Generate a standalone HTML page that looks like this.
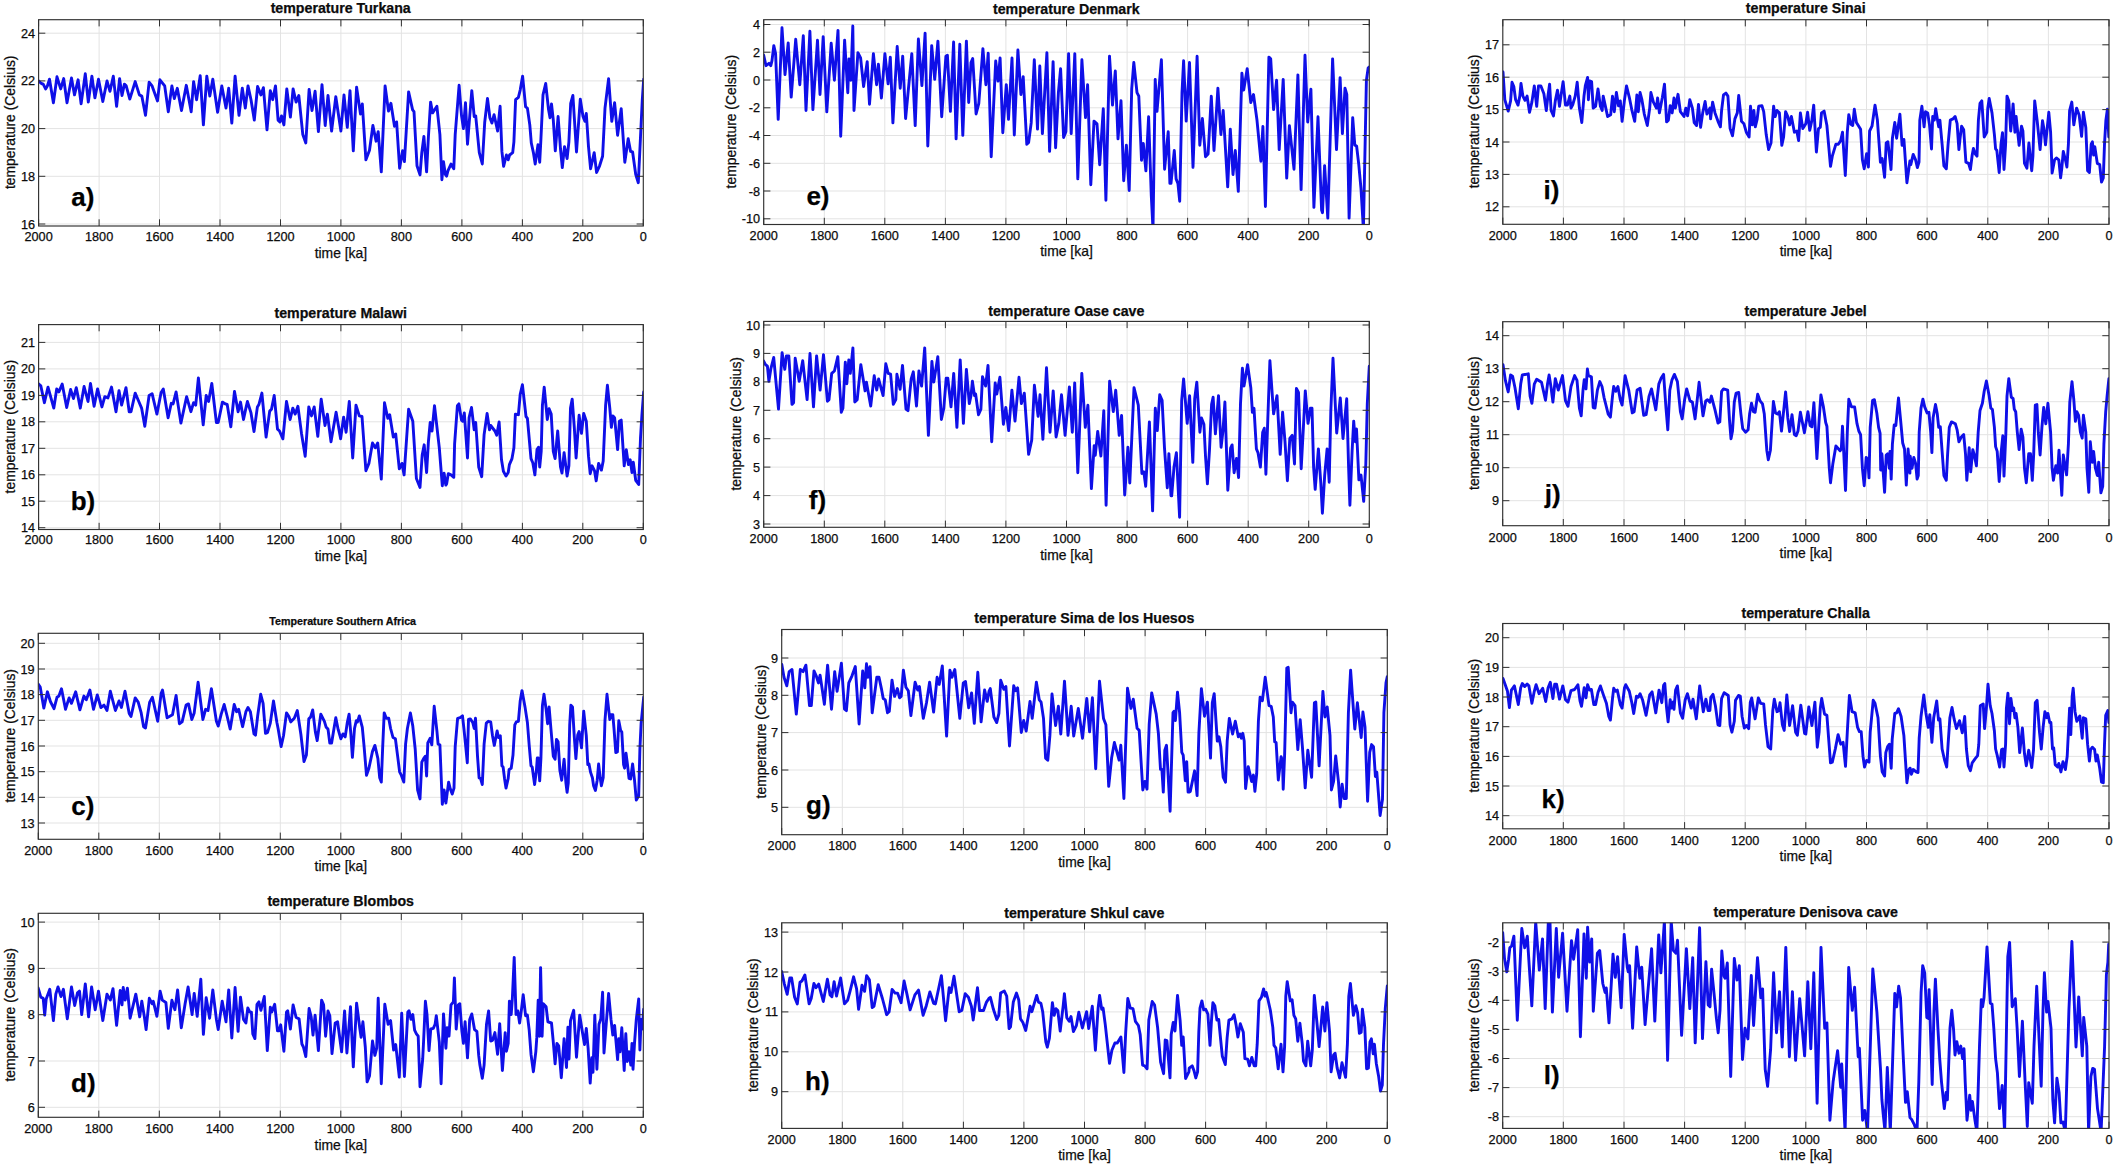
<!DOCTYPE html><html><head><meta charset="utf-8"><title>temperature</title><style>html,body{margin:0;padding:0;background:#fff}svg{display:block}text{font-family:"Liberation Sans",Arial,Helvetica,sans-serif;fill:#0c0c0c;stroke:#0c0c0c;stroke-width:0.25px}.t{font-size:12.7px}.a{font-size:13.9px}.h{font-weight:bold}.L{font-weight:bold;font-size:26px;fill:#000}</style></head><body>
<svg width="2121" height="1164" viewBox="0 0 2121 1164">
<rect width="2121" height="1164" fill="#fff"/>
<g id="pa">
<path d="M99.1 19.7V226M159.5 19.7V226M220.0 19.7V226M280.5 19.7V226M340.9 19.7V226M401.4 19.7V226M461.9 19.7V226M522.4 19.7V226M582.8 19.7V226M38.6 224.0H643.3M38.6 176.3H643.3M38.6 128.6H643.3M38.6 80.9H643.3M38.6 33.2H643.3" stroke="#e3e3e3" stroke-width="1" fill="none"/>
<clipPath id="ca"><rect x="38.6" y="19.7" width="604.7" height="206.3"/></clipPath>
<polyline clip-path="url(#ca)" points="38.2,80.7 41.4,83.5 43.2,84.1 45.6,88.9 47.4,85.9 49.5,79.2 53.4,102.7 57.0,76.8 60.7,88.9 63.7,78.6 67.0,102.7 71.5,78.0 74.5,94.9 78.1,79.8 81.1,103.9 85.3,73.8 88.3,102.1 91.9,76.2 94.9,97.9 98.5,79.2 102.8,101.5 107.0,81.0 110.0,91.3 113.3,76.2 116.6,106.3 119.6,78.6 122.0,95.5 124.4,84.1 126.2,85.9 129.8,99.1 135.2,81.6 139.4,94.9 141.8,96.1 145.5,115.3 149.1,82.3 152.1,85.9 157.5,100.9 159.9,79.8 164.7,85.9 168.3,111.7 171.9,85.9 174.3,98.5 177.3,88.3 181.5,110.5 186.3,85.3 191.2,111.7 193.6,81.6 196.6,99.7 200.2,75.6 203.4,124.9 206.8,76.2 209.8,96.1 212.8,79.2 217.6,112.3 221.8,85.9 226.0,108.1 228.7,88.3 231.8,123.1 235.1,76.2 239.0,115.3 242.3,88.3 245.3,108.1 248.0,85.9 251.0,99.7 254.3,120.1 257.6,86.5 260.9,94.9 263.4,87.7 267.0,129.8 270.3,90.7 272.7,99.7 275.5,85.9 278.1,120.1 279.9,121.9 281.5,115.9 283.9,124.9 286.8,88.9 290.4,117.1 293.1,88.9 296.1,102.1 298.8,95.5 302.8,134.6 305.8,143.0 309.1,89.5 312.0,110.5 315.1,91.3 318.4,131.6 322.0,84.7 325.2,125.5 328.0,95.5 331.6,131.0 335.8,96.7 340.9,131.0 344.0,94.9 347.3,127.4 350.0,90.7 353.3,150.8 356.6,87.1 360.5,114.1 362.3,103.9 365.9,159.8 369.5,150.2 372.9,125.5 376.1,141.2 378.2,131.6 381.3,171.9 385.1,85.9 388.5,111.1 390.9,103.3 394.5,126.2 396.6,121.9 399.6,168.2 402.6,150.8 404.4,161.6 408.6,91.9 412.6,109.9 414.0,111.7 417.0,165.8 420.0,174.9 421.8,152.6 423.9,136.4 426.6,171.9 428.4,137.0 430.6,102.1 432.6,112.9 436.9,106.3 439.9,134.6 441.9,179.7 443.5,161.6 445.3,174.3 446.6,176.1 448.0,170.7 451.0,164.0 453.8,168.8 455.2,134.6 459.1,85.3 461.5,115.3 463.4,128.6 465.5,102.7 467.5,144.2 469.7,116.5 471.8,90.7 474.2,116.5 475.7,115.9 479.3,152.6 482.3,164.0 484.7,122.5 487.5,98.5 489.9,117.7 491.9,123.1 494.1,114.7 497.6,131.0 500.1,106.3 501.9,151.4 503.6,166.4 506.4,155.0 508.2,159.8 509.6,155.0 512.7,152.6 513.9,141.8 515.6,99.7 518.4,97.3 520.2,90.1 522.6,76.2 525.6,106.9 527.4,108.1 529.8,124.9 531.3,143.0 533.4,152.6 535.2,164.0 538.0,144.8 539.7,162.2 540.9,139.4 543.0,94.9 545.7,83.5 548.5,109.3 550.0,117.7 551.5,103.9 553.3,120.1 555.3,150.8 558.1,116.5 560.5,149.0 562.3,167.6 564.5,146.6 567.1,158.6 568.9,141.8 570.7,103.3 572.9,95.5 576.5,152.0 580.3,99.1 583.0,116.5 584.9,121.3 586.3,113.5 588.5,146.6 590.6,168.8 594.2,152.6 596.6,172.5 599.6,165.8 602.6,156.2 605.0,108.1 608.6,78.6 611.8,121.3 614.6,102.7 617.6,135.2 621.2,108.7 624.8,162.2 628.2,138.8 630.6,151.4 632.6,152.0 635.7,174.3 638.3,182.7 640.5,137.0 642.3,99.7 643.7,79.2" fill="none" stroke="#0f0fe8" stroke-width="2.9" stroke-linejoin="round" stroke-linecap="round"/>
<path d="M38.6 226v-6.7M38.6 19.7v6.7M99.1 226v-6.7M99.1 19.7v6.7M159.5 226v-6.7M159.5 19.7v6.7M220.0 226v-6.7M220.0 19.7v6.7M280.5 226v-6.7M280.5 19.7v6.7M340.9 226v-6.7M340.9 19.7v6.7M401.4 226v-6.7M401.4 19.7v6.7M461.9 226v-6.7M461.9 19.7v6.7M522.4 226v-6.7M522.4 19.7v6.7M582.8 226v-6.7M582.8 19.7v6.7M643.3 226v-6.7M643.3 19.7v6.7M38.6 224.0h6.7M643.3 224.0h-6.7M38.6 176.3h6.7M643.3 176.3h-6.7M38.6 128.6h6.7M643.3 128.6h-6.7M38.6 80.9h6.7M643.3 80.9h-6.7M38.6 33.2h6.7M643.3 33.2h-6.7" stroke="#303030" stroke-width="1" fill="none"/>
<rect x="38.6" y="19.7" width="604.7" height="206.3" fill="none" stroke="#303030" stroke-width="1.15"/>
<text class="t" x="38.6" y="241.0" text-anchor="middle">2000</text>
<text class="t" x="99.1" y="241.0" text-anchor="middle">1800</text>
<text class="t" x="159.5" y="241.0" text-anchor="middle">1600</text>
<text class="t" x="220.0" y="241.0" text-anchor="middle">1400</text>
<text class="t" x="280.5" y="241.0" text-anchor="middle">1200</text>
<text class="t" x="340.9" y="241.0" text-anchor="middle">1000</text>
<text class="t" x="401.4" y="241.0" text-anchor="middle">800</text>
<text class="t" x="461.9" y="241.0" text-anchor="middle">600</text>
<text class="t" x="522.4" y="241.0" text-anchor="middle">400</text>
<text class="t" x="582.8" y="241.0" text-anchor="middle">200</text>
<text class="t" x="643.3" y="241.0" text-anchor="middle">0</text>
<text class="t" x="35.0" y="228.5" text-anchor="end">16</text>
<text class="t" x="35.0" y="180.8" text-anchor="end">18</text>
<text class="t" x="35.0" y="133.1" text-anchor="end">20</text>
<text class="t" x="35.0" y="85.4" text-anchor="end">22</text>
<text class="t" x="35.0" y="37.7" text-anchor="end">24</text>
<text class="h" font-size="14.2" x="340.7" y="13.4" text-anchor="middle">temperature Turkana</text>
<text class="a" x="340.9" y="258.0" text-anchor="middle">time [ka]</text>
<text class="a" font-size="14.2" transform="translate(14.5 122.3) rotate(-90)" text-anchor="middle">temperature (Celsius)</text>
<text class="L" x="71.2" y="206">a)</text>
</g>
<g id="pe">
<path d="M824.3 19.7V224.5M884.8 19.7V224.5M945.4 19.7V224.5M1005.9 19.7V224.5M1066.5 19.7V224.5M1127.1 19.7V224.5M1187.6 19.7V224.5M1248.2 19.7V224.5M1308.7 19.7V224.5M763.7 218.8H1369.3M763.7 191.0H1369.3M763.7 163.3H1369.3M763.7 135.5H1369.3M763.7 107.8H1369.3M763.7 80.0H1369.3M763.7 52.2H1369.3M763.7 24.5H1369.3" stroke="#e3e3e3" stroke-width="1" fill="none"/>
<clipPath id="ce"><rect x="763.7" y="19.7" width="605.6" height="204.8"/></clipPath>
<polyline clip-path="url(#ce)" points="763.7,55.3 766.0,65.7 769.0,63.3 770.8,65.7 772.0,60.7 773.8,45.6 775.6,53.6 778.2,119.4 782.0,27.8 785.0,74.6 788.2,42.9 791.2,97.1 795.7,39.3 799.8,84.7 803.3,35.8 806.0,110.5 809.9,31.3 812.9,109.6 817.5,40.2 820.0,94.5 823.2,36.7 826.8,111.9 831.2,43.3 834.4,80.2 838.0,30.4 840.7,136.3 844.6,40.2 847.8,92.7 849.0,58.9 850.8,80.2 852.8,26.0 854.0,110.5 857.9,52.7 860.6,58.0 863.6,86.5 867.2,61.6 869.5,104.2 873.4,53.6 876.6,84.7 878.4,64.2 881.4,98.0 884.9,53.6 888.1,83.8 890.3,57.1 892.9,122.9 897.2,46.5 900.2,88.2 902.7,56.2 905.6,118.5 911.8,53.6 915.2,125.6 918.4,39.0 921.9,85.6 925.1,33.1 927.8,146.0 931.7,45.6 934.7,79.4 937.9,41.1 941.7,116.7 945.9,56.2 947.4,55.3 950.4,111.4 953.6,42.0 956.1,138.9 959.8,44.3 962.8,135.4 966.4,41.1 968.7,102.5 971.0,62.5 972.7,58.5 976.1,114.0 978.8,103.4 982.9,48.6 985.9,84.7 988.2,53.2 991.2,156.7 995.7,61.0 998.0,81.1 1000.1,58.0 1002.8,132.7 1006.3,84.7 1008.5,119.4 1012.0,58.0 1014.3,135.0 1017.9,50.0 1020.9,94.5 1023.2,76.7 1026.8,144.3 1028.6,142.5 1031.2,122.9 1034.3,59.8 1037.5,129.1 1039.8,66.0 1042.4,133.6 1046.9,52.7 1049.6,151.4 1053.1,61.6 1055.6,147.8 1058.4,92.7 1060.6,68.7 1063.6,137.5 1065.9,131.8 1068.6,53.6 1071.2,133.6 1074.8,53.6 1077.8,178.9 1081.9,59.8 1085.5,117.6 1087.6,84.7 1090.8,184.8 1094.0,121.1 1097.0,123.8 1099.7,164.7 1103.3,108.7 1105.9,200.3 1109.5,56.2 1112.5,105.1 1115.3,71.0 1118.0,138.9 1121.0,100.7 1123.7,180.7 1126.4,145.2 1129.2,190.5 1131.7,89.1 1133.8,62.5 1137.0,92.7 1138.8,96.2 1141.5,160.3 1143.3,143.4 1145.9,170.9 1148.6,116.7 1151.3,195.8 1153.0,229.6 1155.2,79.4 1157.0,111.4 1161.4,59.8 1164.6,169.2 1168.2,131.8 1169.9,183.4 1171.0,183.4 1174.3,150.5 1176.1,178.9 1177.9,183.4 1179.7,201.2 1182.0,92.7 1183.6,60.7 1186.2,121.1 1189.5,62.5 1193.0,167.4 1197.1,56.2 1199.8,145.2 1202.4,118.5 1205.5,156.7 1208.1,154.0 1211.3,96.2 1214.0,150.5 1217.9,88.2 1220.9,134.5 1223.2,110.5 1227.7,186.9 1230.3,129.1 1233.0,174.5 1235.3,150.5 1238.3,191.4 1241.9,73.1 1243.7,90.0 1247.2,68.7 1250.8,102.5 1253.5,94.5 1257.0,120.3 1260.9,161.2 1262.9,126.5 1265.4,206.5 1268.9,57.1 1270.7,58.9 1273.6,109.6 1276.6,80.2 1279.2,149.6 1283.2,79.4 1286.7,178.1 1289.4,125.6 1294.0,169.2 1297.9,74.9 1301.1,189.6 1305.0,55.3 1307.7,122.0 1310.9,89.1 1313.9,207.4 1318.0,116.7 1321.6,210.1 1322.5,212.7 1324.6,165.6 1327.8,218.1 1332.6,58.9 1336.5,149.6 1340.1,77.6 1342.4,133.6 1345.0,88.2 1346.8,94.5 1349.1,218.1 1352.7,117.6 1354.8,145.2 1356.6,146.0 1358.7,163.8 1361.0,188.7 1363.4,229.6 1366.4,80.2 1368.2,67.8 1369.4,66.9" fill="none" stroke="#0f0fe8" stroke-width="2.9" stroke-linejoin="round" stroke-linecap="round"/>
<path d="M763.7 224.5v-6.7M763.7 19.7v6.7M824.3 224.5v-6.7M824.3 19.7v6.7M884.8 224.5v-6.7M884.8 19.7v6.7M945.4 224.5v-6.7M945.4 19.7v6.7M1005.9 224.5v-6.7M1005.9 19.7v6.7M1066.5 224.5v-6.7M1066.5 19.7v6.7M1127.1 224.5v-6.7M1127.1 19.7v6.7M1187.6 224.5v-6.7M1187.6 19.7v6.7M1248.2 224.5v-6.7M1248.2 19.7v6.7M1308.7 224.5v-6.7M1308.7 19.7v6.7M1369.3 224.5v-6.7M1369.3 19.7v6.7M763.7 218.8h6.7M1369.3 218.8h-6.7M763.7 191.0h6.7M1369.3 191.0h-6.7M763.7 163.3h6.7M1369.3 163.3h-6.7M763.7 135.5h6.7M1369.3 135.5h-6.7M763.7 107.8h6.7M1369.3 107.8h-6.7M763.7 80.0h6.7M1369.3 80.0h-6.7M763.7 52.2h6.7M1369.3 52.2h-6.7M763.7 24.5h6.7M1369.3 24.5h-6.7" stroke="#303030" stroke-width="1" fill="none"/>
<rect x="763.7" y="19.7" width="605.6" height="204.8" fill="none" stroke="#303030" stroke-width="1.15"/>
<text class="t" x="763.7" y="239.7" text-anchor="middle">2000</text>
<text class="t" x="824.3" y="239.7" text-anchor="middle">1800</text>
<text class="t" x="884.8" y="239.7" text-anchor="middle">1600</text>
<text class="t" x="945.4" y="239.7" text-anchor="middle">1400</text>
<text class="t" x="1005.9" y="239.7" text-anchor="middle">1200</text>
<text class="t" x="1066.5" y="239.7" text-anchor="middle">1000</text>
<text class="t" x="1127.1" y="239.7" text-anchor="middle">800</text>
<text class="t" x="1187.6" y="239.7" text-anchor="middle">600</text>
<text class="t" x="1248.2" y="239.7" text-anchor="middle">400</text>
<text class="t" x="1308.7" y="239.7" text-anchor="middle">200</text>
<text class="t" x="1369.3" y="239.7" text-anchor="middle">0</text>
<text class="t" x="760.1" y="223.3" text-anchor="end">-10</text>
<text class="t" x="760.1" y="195.5" text-anchor="end">-8</text>
<text class="t" x="760.1" y="167.8" text-anchor="end">-6</text>
<text class="t" x="760.1" y="140.0" text-anchor="end">-4</text>
<text class="t" x="760.1" y="112.3" text-anchor="end">-2</text>
<text class="t" x="760.1" y="84.5" text-anchor="end">0</text>
<text class="t" x="760.1" y="56.7" text-anchor="end">2</text>
<text class="t" x="760.1" y="29.0" text-anchor="end">4</text>
<text class="h" font-size="14.2" x="1066.3" y="13.5" text-anchor="middle">temperature Denmark</text>
<text class="a" x="1066.5" y="256.3" text-anchor="middle">time [ka]</text>
<text class="a" font-size="14.2" transform="translate(736.3 121.6) rotate(-90)" text-anchor="middle">temperature (Celsius)</text>
<text class="L" x="806.4" y="204.5">e)</text>
</g>
<g id="pi">
<path d="M1563.4 19.7V224.3M1624.0 19.7V224.3M1684.7 19.7V224.3M1745.3 19.7V224.3M1805.9 19.7V224.3M1866.5 19.7V224.3M1927.1 19.7V224.3M1987.8 19.7V224.3M2048.4 19.7V224.3M1502.8 206.8H2109M1502.8 174.4H2109M1502.8 142.0H2109M1502.8 109.6H2109M1502.8 77.2H2109M1502.8 44.8H2109" stroke="#e3e3e3" stroke-width="1" fill="none"/>
<clipPath id="ci"><rect x="1502.8" y="19.7" width="606.2" height="204.6"/></clipPath>
<polyline clip-path="url(#ci)" points="1503.0,72.0 1504.8,99.7 1508.2,111.1 1510.6,100.9 1512.0,82.3 1513.8,86.5 1515.6,99.7 1518.0,105.1 1519.8,96.1 1521.0,83.5 1522.9,96.1 1525.0,100.3 1527.1,96.1 1529.5,112.3 1531.9,102.1 1534.3,85.9 1536.7,106.3 1538.5,85.9 1540.9,85.9 1543.9,93.7 1546.3,110.5 1547.9,96.1 1549.6,84.1 1551.1,110.5 1553.5,115.9 1555.3,100.9 1557.5,90.1 1559.5,106.3 1561.1,94.9 1563.1,81.6 1565.5,105.1 1567.4,105.1 1569.8,96.1 1571.0,108.1 1572.8,104.5 1575.2,96.1 1577.2,82.3 1579.4,108.1 1581.8,122.5 1584.0,96.1 1585.4,85.3 1587.6,77.4 1588.4,99.7 1589.6,81.0 1591.6,81.6 1593.2,108.1 1595.6,106.3 1598.0,88.9 1600.4,106.3 1602.2,110.5 1603.2,96.1 1605.8,108.1 1607.6,116.5 1610.7,114.7 1612.5,96.1 1614.3,111.7 1616.4,92.5 1618.5,105.7 1620.3,100.9 1622.1,121.3 1624.5,99.7 1626.5,85.9 1629.3,97.3 1631.7,109.3 1634.7,121.3 1636.9,94.9 1638.3,111.7 1640.1,92.5 1641.9,99.7 1644.3,114.1 1647.3,125.5 1649.7,108.1 1650.9,92.5 1653.4,102.1 1656.4,108.1 1657.6,97.9 1659.4,112.9 1662.4,97.3 1664.5,84.1 1666.6,121.9 1668.4,120.1 1670.2,105.7 1672.2,112.9 1674.0,97.9 1675.4,108.1 1678.0,94.3 1680.4,111.7 1684.0,116.5 1685.8,108.1 1687.6,115.9 1689.8,99.7 1692.4,108.1 1694.2,122.5 1696.6,125.5 1698.5,104.5 1700.6,127.4 1702.7,112.9 1705.1,101.5 1706.9,114.1 1709.9,108.1 1710.6,118.9 1712.6,102.1 1715.0,112.9 1718.0,121.3 1720.4,126.8 1721.6,110.5 1723.5,94.9 1725.9,93.1 1727.9,96.1 1730.1,128.6 1732.5,135.8 1734.9,118.9 1737.3,112.9 1738.7,95.5 1741.5,121.3 1743.9,123.7 1746.3,132.2 1749.1,137.0 1750.5,106.3 1752.3,124.9 1753.9,110.5 1755.3,126.8 1757.1,119.5 1758.7,106.3 1761.9,105.7 1763.7,111.7 1766.2,134.6 1768.6,149.6 1771.0,143.0 1773.6,106.3 1775.2,116.5 1777.0,110.5 1779.4,112.9 1781.8,145.4 1783.6,137.0 1785.6,111.7 1787.8,116.5 1789.6,124.9 1791.4,116.5 1794.4,132.2 1796.8,131.0 1798.6,140.6 1800.4,112.9 1802.8,128.6 1805.8,123.7 1807.6,112.3 1809.7,130.4 1811.9,120.1 1813.7,105.1 1816.4,152.0 1818.5,128.6 1820.3,127.4 1821.5,112.9 1824.1,111.1 1826.9,125.5 1830.5,166.4 1832.3,156.2 1835.9,144.2 1838.3,144.2 1840.7,140.6 1842.5,132.2 1845.3,175.5 1847.3,132.2 1848.8,114.7 1850.9,124.3 1852.7,125.5 1854.3,109.3 1856.4,122.5 1860.6,129.2 1862.4,159.8 1864.2,168.8 1866.6,153.8 1868.4,167.0 1869.6,131.0 1872.0,126.2 1875.0,105.1 1877.4,120.1 1880.4,162.2 1882.2,158.6 1884.6,177.3 1886.2,143.0 1887.9,141.8 1891.0,169.5 1892.4,138.2 1894.8,122.5 1896.6,138.2 1899.9,114.1 1902.1,145.4 1903.9,139.4 1906.9,182.7 1909.9,161.0 1910.8,164.6 1913.2,154.4 1915.6,159.8 1917.4,167.6 1919.0,162.2 1919.8,120.1 1921.9,106.3 1924.1,126.8 1925.5,111.7 1927.7,112.9 1929.5,124.9 1931.5,149.0 1932.7,116.5 1934.3,120.1 1935.7,108.7 1937.5,120.1 1938.7,126.8 1939.9,120.1 1942.1,144.2 1943.9,165.8 1946.3,168.8 1948.1,144.2 1950.3,120.1 1952.9,118.9 1955.1,116.5 1957.1,123.7 1958.9,149.6 1960.1,138.2 1961.6,126.2 1963.7,129.8 1965.9,162.2 1968.6,163.4 1970.4,169.5 1972.2,155.0 1973.4,148.4 1975.2,153.8 1977.0,156.2 1978.4,120.1 1980.0,103.3 1981.8,100.9 1984.2,137.0 1986.8,132.2 1987.8,108.1 1989.2,98.5 1992.0,112.9 1994.4,134.6 1995.6,149.0 1996.8,150.2 1999.2,172.5 2001.0,144.2 2002.5,132.8 2004.0,169.5 2005.6,144.2 2007.0,96.1 2008.8,100.9 2010.7,131.0 2012.1,116.5 2013.1,103.9 2014.9,132.2 2016.1,116.5 2019.1,145.4 2021.5,126.2 2022.9,131.0 2024.5,163.4 2026.9,168.2 2028.9,143.0 2031.7,170.7 2032.9,156.2 2034.7,100.9 2037.1,120.1 2040.1,149.6 2042.5,120.7 2043.7,127.4 2045.5,144.8 2048.8,112.3 2050.6,132.2 2052.1,173.1 2054.6,159.8 2056.4,158.0 2058.8,159.8 2060.6,177.9 2061.8,168.2 2063.3,151.4 2065.4,159.8 2066.9,167.0 2068.4,144.2 2069.6,110.5 2071.8,102.1 2073.8,124.9 2076.6,108.1 2079.2,115.3 2081.6,136.4 2083.4,112.3 2085.8,127.4 2087.6,170.7 2089.4,172.5 2091.2,144.2 2092.4,141.8 2093.6,155.0 2094.8,146.6 2097.3,163.4 2099.7,164.6 2101.5,182.1 2103.3,177.9 2104.5,144.2 2105.9,120.1 2107.4,109.3 2108.8,137.0" fill="none" stroke="#0f0fe8" stroke-width="2.9" stroke-linejoin="round" stroke-linecap="round"/>
<path d="M1502.8 224.3v-6.7M1502.8 19.7v6.7M1563.4 224.3v-6.7M1563.4 19.7v6.7M1624.0 224.3v-6.7M1624.0 19.7v6.7M1684.7 224.3v-6.7M1684.7 19.7v6.7M1745.3 224.3v-6.7M1745.3 19.7v6.7M1805.9 224.3v-6.7M1805.9 19.7v6.7M1866.5 224.3v-6.7M1866.5 19.7v6.7M1927.1 224.3v-6.7M1927.1 19.7v6.7M1987.8 224.3v-6.7M1987.8 19.7v6.7M2048.4 224.3v-6.7M2048.4 19.7v6.7M2109.0 224.3v-6.7M2109.0 19.7v6.7M1502.8 206.8h6.7M2109 206.8h-6.7M1502.8 174.4h6.7M2109 174.4h-6.7M1502.8 142.0h6.7M2109 142.0h-6.7M1502.8 109.6h6.7M2109 109.6h-6.7M1502.8 77.2h6.7M2109 77.2h-6.7M1502.8 44.8h6.7M2109 44.8h-6.7" stroke="#303030" stroke-width="1" fill="none"/>
<rect x="1502.8" y="19.7" width="606.2" height="204.6" fill="none" stroke="#303030" stroke-width="1.15"/>
<text class="t" x="1502.8" y="239.7" text-anchor="middle">2000</text>
<text class="t" x="1563.4" y="239.7" text-anchor="middle">1800</text>
<text class="t" x="1624.0" y="239.7" text-anchor="middle">1600</text>
<text class="t" x="1684.7" y="239.7" text-anchor="middle">1400</text>
<text class="t" x="1745.3" y="239.7" text-anchor="middle">1200</text>
<text class="t" x="1805.9" y="239.7" text-anchor="middle">1000</text>
<text class="t" x="1866.5" y="239.7" text-anchor="middle">800</text>
<text class="t" x="1927.1" y="239.7" text-anchor="middle">600</text>
<text class="t" x="1987.8" y="239.7" text-anchor="middle">400</text>
<text class="t" x="2048.4" y="239.7" text-anchor="middle">200</text>
<text class="t" x="2109.0" y="239.7" text-anchor="middle">0</text>
<text class="t" x="1499.2" y="211.3" text-anchor="end">12</text>
<text class="t" x="1499.2" y="178.9" text-anchor="end">13</text>
<text class="t" x="1499.2" y="146.5" text-anchor="end">14</text>
<text class="t" x="1499.2" y="114.1" text-anchor="end">15</text>
<text class="t" x="1499.2" y="81.7" text-anchor="end">16</text>
<text class="t" x="1499.2" y="49.3" text-anchor="end">17</text>
<text class="h" font-size="14.2" x="1805.7" y="13.1" text-anchor="middle">temperature Sinai</text>
<text class="a" x="1805.9" y="256.3" text-anchor="middle">time [ka]</text>
<text class="a" font-size="14.2" transform="translate(1479.0 121.5) rotate(-90)" text-anchor="middle">temperature (Celsius)</text>
<text class="L" x="1543.6" y="198.5">i)</text>
</g>
<g id="pb">
<path d="M99.1 324.6V529.5M159.5 324.6V529.5M220.0 324.6V529.5M280.5 324.6V529.5M340.9 324.6V529.5M401.4 324.6V529.5M461.9 324.6V529.5M522.4 324.6V529.5M582.8 324.6V529.5M38.6 527.7H643.3M38.6 501.2H643.3M38.6 474.8H643.3M38.6 448.3H643.3M38.6 421.8H643.3M38.6 395.4H643.3M38.6 368.9H643.3M38.6 342.4H643.3" stroke="#e3e3e3" stroke-width="1" fill="none"/>
<clipPath id="cb"><rect x="38.6" y="324.6" width="604.7" height="204.9"/></clipPath>
<polyline clip-path="url(#cb)" points="38.2,383.5 40.8,385.9 44.4,402.7 48.0,387.1 53.8,408.1 56.7,388.9 58.9,391.9 62.2,384.1 66.7,407.5 70.6,389.5 73.5,398.5 76.3,387.7 80.3,408.1 84.1,386.5 88.0,401.5 90.5,383.5 94.1,406.3 97.6,388.9 101.9,406.9 104.8,396.7 107.9,397.9 111.5,387.1 116.0,411.7 119.0,390.7 121.6,405.1 126.0,387.7 129.2,411.7 131.0,411.7 135.2,393.1 138.8,401.5 141.6,408.1 144.8,426.2 149.1,395.5 152.1,393.7 156.9,414.1 161.1,392.5 163.3,388.9 168.1,417.7 171.3,403.3 173.1,403.9 176.1,391.9 180.9,423.1 186.6,396.7 190.9,411.7 193.6,402.7 195.7,405.1 198.4,378.0 203.2,424.9 206.2,395.5 208.6,401.5 211.8,383.5 216.4,422.5 218.2,422.5 222.4,402.1 225.4,403.9 227.2,404.5 230.8,426.8 234.5,391.5 238.1,411.7 240.5,402.1 243.5,419.5 245.9,408.1 247.4,401.5 251.0,412.9 254.0,431.6 257.4,406.9 258.9,404.5 261.9,393.1 266.1,437.0 269.7,411.1 271.5,409.3 274.2,395.5 277.5,429.2 279.5,431.0 282.9,438.8 286.5,401.5 290.1,419.5 292.8,408.1 295.2,414.1 297.9,406.3 301.5,433.4 305.2,456.2 308.8,406.9 311.5,415.9 314.2,406.9 317.8,436.4 321.2,399.1 325.0,425.5 327.4,414.1 331.0,441.8 336.1,412.3 340.6,438.8 343.6,417.1 346.1,432.2 349.3,401.5 352.7,458.0 356.0,405.1 359.3,415.9 362.0,416.5 365.9,470.7 368.9,463.4 372.5,443.0 375.3,447.8 377.7,443.0 381.3,479.1 384.5,402.7 387.8,418.3 389.7,414.7 393.3,437.0 395.7,434.0 399.3,468.8 402.0,463.4 404.1,474.9 408.6,409.3 412.8,421.3 416.4,478.5 420.0,487.5 422.2,455.0 424.2,444.8 426.6,472.5 428.4,441.8 430.2,422.5 432.0,431.0 434.5,405.7 439.3,447.8 442.3,485.7 444.1,473.1 445.8,485.1 446.6,483.9 448.3,473.7 451.0,474.9 453.8,477.3 454.6,444.2 457.4,405.7 458.9,403.9 461.5,420.1 462.7,421.3 464.3,412.9 467.5,458.0 469.1,417.7 471.5,407.5 474.2,429.8 475.7,422.5 478.7,467.0 481.7,476.7 484.1,434.6 487.1,413.5 489.5,429.8 490.7,425.5 494.9,431.0 496.7,435.2 499.1,421.9 501.5,459.8 503.4,471.3 506.0,476.1 508.2,472.5 509.4,464.6 512.0,458.6 513.9,447.8 515.4,414.1 518.4,414.7 520.2,394.3 522.4,384.7 526.0,416.5 527.4,418.3 531.0,458.6 532.8,462.8 534.9,474.9 537.0,449.6 538.5,447.2 539.7,467.0 541.2,451.4 542.4,405.7 544.2,387.1 547.3,419.5 549.1,408.7 551.2,414.1 553.3,451.4 555.1,458.6 557.7,431.0 560.5,467.0 562.0,473.1 564.1,452.6 567.1,476.1 568.9,465.8 570.5,408.1 572.2,399.1 574.3,427.4 576.1,458.0 579.1,415.3 581.5,433.4 583.7,413.5 586.3,421.3 588.5,456.2 590.2,473.7 592.1,465.8 594.5,470.7 596.2,480.9 598.6,463.4 601.4,470.1 603.2,461.0 605.6,405.7 607.4,385.3 609.8,408.1 611.4,427.4 612.8,415.9 614.6,417.7 617.6,449.6 619.4,421.3 621.2,420.1 624.2,465.8 626.3,449.6 628.4,464.6 630.2,459.8 632.0,472.5 633.3,462.2 635.7,480.3 638.7,484.5 640.5,438.2 641.9,415.3 643.7,391.9" fill="none" stroke="#0f0fe8" stroke-width="2.9" stroke-linejoin="round" stroke-linecap="round"/>
<path d="M38.6 529.5v-6.7M38.6 324.6v6.7M99.1 529.5v-6.7M99.1 324.6v6.7M159.5 529.5v-6.7M159.5 324.6v6.7M220.0 529.5v-6.7M220.0 324.6v6.7M280.5 529.5v-6.7M280.5 324.6v6.7M340.9 529.5v-6.7M340.9 324.6v6.7M401.4 529.5v-6.7M401.4 324.6v6.7M461.9 529.5v-6.7M461.9 324.6v6.7M522.4 529.5v-6.7M522.4 324.6v6.7M582.8 529.5v-6.7M582.8 324.6v6.7M643.3 529.5v-6.7M643.3 324.6v6.7M38.6 527.7h6.7M643.3 527.7h-6.7M38.6 501.2h6.7M643.3 501.2h-6.7M38.6 474.8h6.7M643.3 474.8h-6.7M38.6 448.3h6.7M643.3 448.3h-6.7M38.6 421.8h6.7M643.3 421.8h-6.7M38.6 395.4h6.7M643.3 395.4h-6.7M38.6 368.9h6.7M643.3 368.9h-6.7M38.6 342.4h6.7M643.3 342.4h-6.7" stroke="#303030" stroke-width="1" fill="none"/>
<rect x="38.6" y="324.6" width="604.7" height="204.9" fill="none" stroke="#303030" stroke-width="1.15"/>
<text class="t" x="38.6" y="544.4" text-anchor="middle">2000</text>
<text class="t" x="99.1" y="544.4" text-anchor="middle">1800</text>
<text class="t" x="159.5" y="544.4" text-anchor="middle">1600</text>
<text class="t" x="220.0" y="544.4" text-anchor="middle">1400</text>
<text class="t" x="280.5" y="544.4" text-anchor="middle">1200</text>
<text class="t" x="340.9" y="544.4" text-anchor="middle">1000</text>
<text class="t" x="401.4" y="544.4" text-anchor="middle">800</text>
<text class="t" x="461.9" y="544.4" text-anchor="middle">600</text>
<text class="t" x="522.4" y="544.4" text-anchor="middle">400</text>
<text class="t" x="582.8" y="544.4" text-anchor="middle">200</text>
<text class="t" x="643.3" y="544.4" text-anchor="middle">0</text>
<text class="t" x="35.0" y="532.2" text-anchor="end">14</text>
<text class="t" x="35.0" y="505.7" text-anchor="end">15</text>
<text class="t" x="35.0" y="479.3" text-anchor="end">16</text>
<text class="t" x="35.0" y="452.8" text-anchor="end">17</text>
<text class="t" x="35.0" y="426.3" text-anchor="end">18</text>
<text class="t" x="35.0" y="399.9" text-anchor="end">19</text>
<text class="t" x="35.0" y="373.4" text-anchor="end">20</text>
<text class="t" x="35.0" y="346.9" text-anchor="end">21</text>
<text class="h" font-size="14.2" x="340.7" y="318.4" text-anchor="middle">temperature Malawi</text>
<text class="a" x="340.9" y="560.7" text-anchor="middle">time [ka]</text>
<text class="a" font-size="14.2" transform="translate(14.5 426.6) rotate(-90)" text-anchor="middle">temperature (Celsius)</text>
<text class="L" x="70.7" y="510.4">b)</text>
</g>
<g id="pf">
<path d="M824.3 321.4V527.3M884.8 321.4V527.3M945.4 321.4V527.3M1005.9 321.4V527.3M1066.5 321.4V527.3M1127.1 321.4V527.3M1187.6 321.4V527.3M1248.2 321.4V527.3M1308.7 321.4V527.3M763.7 524.0H1369.3M763.7 495.6H1369.3M763.7 467.1H1369.3M763.7 438.7H1369.3M763.7 410.3H1369.3M763.7 381.9H1369.3M763.7 353.4H1369.3M763.7 325.0H1369.3" stroke="#e3e3e3" stroke-width="1" fill="none"/>
<clipPath id="cf"><rect x="763.7" y="321.4" width="605.6" height="205.9"/></clipPath>
<polyline clip-path="url(#cf)" points="763.4,360.7 765.5,364.6 767.4,366.2 768.9,381.3 770.9,368.6 773.7,357.5 778.5,409.1 782.1,352.7 784.8,369.4 786.4,355.9 788.8,355.9 792.0,404.4 793.6,402.8 795.2,358.3 799.2,381.3 802.7,360.7 807.1,399.6 810.0,353.5 813.5,406.8 816.6,355.9 820.1,390.1 823.5,354.6 827.4,401.2 829.0,399.6 831.7,373.4 834.4,371.0 837.8,356.7 841.3,412.3 842.9,408.3 845.3,362.3 846.8,383.7 848.8,359.9 850.3,373.4 852.9,347.9 854.8,402.0 857.2,399.6 860.8,364.6 865.1,390.9 866.4,382.1 870.7,406.0 874.2,375.8 876.7,390.1 878.6,378.9 883.1,395.6 885.8,363.8 888.2,373.4 890.6,374.2 893.3,404.4 895.8,399.6 896.9,374.2 900.1,389.3 902.5,365.4 906.0,409.1 908.0,410.7 911.2,378.9 913.3,371.8 916.5,406.0 918.9,371.0 921.6,386.1 924.7,347.9 928.4,435.4 931.9,361.5 933.8,382.1 937.8,356.7 941.4,419.5 943.8,408.3 946.2,378.1 947.8,378.1 951.0,406.8 953.7,373.4 956.9,427.4 960.2,359.9 963.4,423.4 966.4,369.4 969.3,403.6 971.0,395.6 972.4,381.3 974.5,395.6 975.6,394.0 978.5,414.7 980.9,409.1 982.5,376.6 985.6,386.1 988.0,365.4 991.7,441.7 995.2,382.9 996.8,394.0 999.9,377.3 1003.4,424.2 1005.8,407.5 1008.7,430.6 1011.9,390.1 1015.0,421.1 1019.0,377.3 1021.4,403.6 1024.3,393.2 1028.6,454.4 1031.7,440.1 1034.4,385.3 1038.1,416.3 1040.0,394.8 1042.9,439.3 1046.5,367.8 1050.0,432.2 1053.2,390.9 1056.1,437.0 1058.8,423.4 1061.5,394.8 1065.1,435.4 1069.4,386.9 1072.3,432.2 1074.7,382.9 1077.8,472.7 1081.8,373.4 1085.3,427.4 1087.9,405.2 1091.4,488.6 1094.2,445.7 1095.3,455.2 1097.7,431.4 1100.9,456.0 1103.8,410.7 1106.1,505.3 1109.6,381.3 1113.3,411.5 1115.7,390.1 1119.2,435.4 1121.6,415.5 1124.7,495.0 1127.9,447.3 1129.8,483.0 1134.0,387.7 1138.3,405.2 1141.9,473.5 1143.8,471.9 1145.7,486.2 1149.4,421.9 1152.6,510.9 1155.3,408.3 1157.3,430.6 1159.7,394.8 1162.1,400.4 1164.5,448.1 1167.3,487.8 1168.9,453.6 1171.0,495.8 1171.7,495.8 1174.0,467.1 1176.4,452.8 1179.6,517.2 1181.7,400.4 1183.6,378.9 1187.2,423.4 1189.6,395.6 1192.8,462.4 1194.7,398.8 1196.8,382.1 1199.9,432.2 1201.5,417.9 1203.9,424.2 1205.5,456.0 1207.4,483.8 1209.5,449.7 1211.6,404.4 1213.1,397.2 1215.4,433.8 1218.5,395.6 1221.1,447.3 1223.0,430.6 1224.9,402.0 1227.8,490.2 1230.6,448.1 1232.1,444.9 1234.1,472.7 1236.5,458.4 1238.6,477.5 1240.5,403.6 1242.4,368.3 1244.0,386.1 1247.6,364.6 1250.8,387.7 1252.4,412.3 1254.0,408.3 1256.4,448.9 1258.0,452.8 1260.4,467.1 1262.7,432.2 1264.3,428.2 1265.9,474.3 1267.8,419.5 1269.9,360.7 1273.6,413.9 1277.0,395.6 1280.2,454.4 1282.6,412.3 1285.0,441.7 1287.4,480.7 1289.8,438.5 1292.2,435.4 1294.5,464.0 1296.4,388.5 1298.5,392.4 1301.2,468.7 1303.3,429.0 1305.3,390.9 1308.0,423.4 1310.4,408.3 1312.0,408.3 1313.6,467.1 1315.2,489.4 1318.4,448.9 1320.8,483.0 1322.4,513.2 1324.7,475.1 1327.1,448.9 1329.2,482.2 1330.8,411.5 1333.0,358.3 1336.7,433.0 1340.3,398.0 1343.0,438.5 1346.7,398.8 1348.6,467.1 1349.9,505.3 1352.1,451.3 1353.7,421.1 1355.3,441.7 1356.5,429.0 1358.9,479.9 1361.0,475.1 1363.7,501.3 1365.8,464.0 1367.3,403.6 1369.3,366.2" fill="none" stroke="#0f0fe8" stroke-width="2.9" stroke-linejoin="round" stroke-linecap="round"/>
<path d="M763.7 527.3v-6.7M763.7 321.4v6.7M824.3 527.3v-6.7M824.3 321.4v6.7M884.8 527.3v-6.7M884.8 321.4v6.7M945.4 527.3v-6.7M945.4 321.4v6.7M1005.9 527.3v-6.7M1005.9 321.4v6.7M1066.5 527.3v-6.7M1066.5 321.4v6.7M1127.1 527.3v-6.7M1127.1 321.4v6.7M1187.6 527.3v-6.7M1187.6 321.4v6.7M1248.2 527.3v-6.7M1248.2 321.4v6.7M1308.7 527.3v-6.7M1308.7 321.4v6.7M1369.3 527.3v-6.7M1369.3 321.4v6.7M763.7 524.0h6.7M1369.3 524.0h-6.7M763.7 495.6h6.7M1369.3 495.6h-6.7M763.7 467.1h6.7M1369.3 467.1h-6.7M763.7 438.7h6.7M1369.3 438.7h-6.7M763.7 410.3h6.7M1369.3 410.3h-6.7M763.7 381.9h6.7M1369.3 381.9h-6.7M763.7 353.4h6.7M1369.3 353.4h-6.7M763.7 325.0h6.7M1369.3 325.0h-6.7" stroke="#303030" stroke-width="1" fill="none"/>
<rect x="763.7" y="321.4" width="605.6" height="205.9" fill="none" stroke="#303030" stroke-width="1.15"/>
<text class="t" x="763.7" y="542.9" text-anchor="middle">2000</text>
<text class="t" x="824.3" y="542.9" text-anchor="middle">1800</text>
<text class="t" x="884.8" y="542.9" text-anchor="middle">1600</text>
<text class="t" x="945.4" y="542.9" text-anchor="middle">1400</text>
<text class="t" x="1005.9" y="542.9" text-anchor="middle">1200</text>
<text class="t" x="1066.5" y="542.9" text-anchor="middle">1000</text>
<text class="t" x="1127.1" y="542.9" text-anchor="middle">800</text>
<text class="t" x="1187.6" y="542.9" text-anchor="middle">600</text>
<text class="t" x="1248.2" y="542.9" text-anchor="middle">400</text>
<text class="t" x="1308.7" y="542.9" text-anchor="middle">200</text>
<text class="t" x="1369.3" y="542.9" text-anchor="middle">0</text>
<text class="t" x="760.1" y="528.5" text-anchor="end">3</text>
<text class="t" x="760.1" y="500.1" text-anchor="end">4</text>
<text class="t" x="760.1" y="471.6" text-anchor="end">5</text>
<text class="t" x="760.1" y="443.2" text-anchor="end">6</text>
<text class="t" x="760.1" y="414.8" text-anchor="end">7</text>
<text class="t" x="760.1" y="386.4" text-anchor="end">8</text>
<text class="t" x="760.1" y="357.9" text-anchor="end">9</text>
<text class="t" x="760.1" y="329.5" text-anchor="end">10</text>
<text class="h" font-size="14.2" x="1066.3" y="315.8" text-anchor="middle">temperature Oase cave</text>
<text class="a" x="1066.5" y="559.6" text-anchor="middle">time [ka]</text>
<text class="a" font-size="14.2" transform="translate(740.6 423.8) rotate(-90)" text-anchor="middle">temperature (Celsius)</text>
<text class="L" x="808.8" y="509.4">f)</text>
</g>
<g id="pj">
<path d="M1563.3 321.7V525.7M1624.0 321.7V525.7M1684.6 321.7V525.7M1745.2 321.7V525.7M1805.8 321.7V525.7M1866.5 321.7V525.7M1927.1 321.7V525.7M1987.7 321.7V525.7M2048.4 321.7V525.7M1502.7 500.7H2109M1502.7 467.7H2109M1502.7 434.7H2109M1502.7 401.7H2109M1502.7 368.7H2109M1502.7 335.7H2109" stroke="#e3e3e3" stroke-width="1" fill="none"/>
<clipPath id="cj"><rect x="1502.7" y="321.7" width="606.3" height="204.0"/></clipPath>
<polyline clip-path="url(#cj)" points="1503.0,364.8 1505.4,380.4 1508.2,391.9 1510.6,375.0 1512.6,376.2 1515.0,387.7 1518.3,408.7 1520.7,384.1 1522.3,375.0 1528.3,373.8 1530.1,396.1 1531.9,403.3 1534.3,384.1 1536.7,379.2 1541.5,382.3 1543.5,391.3 1545.5,400.3 1547.5,384.1 1549.1,375.0 1551.1,387.7 1552.9,402.1 1555.3,378.6 1558.3,390.1 1562.5,375.6 1565.5,400.9 1568.0,406.3 1571.0,386.5 1574.6,375.6 1577.0,380.4 1579.4,408.1 1581.2,415.9 1583.0,390.1 1584.2,379.8 1586.0,388.9 1587.4,369.0 1588.4,375.6 1591.4,376.8 1593.2,407.5 1595.0,408.1 1597.4,390.1 1599.8,381.6 1602.0,386.5 1604.0,397.3 1605.8,404.5 1608.2,414.1 1610.4,417.1 1612.5,396.1 1613.7,386.5 1615.7,391.3 1617.9,386.5 1620.3,399.7 1622.1,405.1 1625.1,375.6 1628.7,390.1 1632.3,412.9 1634.1,411.7 1637.1,390.1 1640.1,388.3 1643.7,415.3 1646.1,414.7 1649.1,396.1 1651.5,388.9 1655.8,409.9 1658.8,384.1 1661.2,378.0 1663.6,374.4 1666.0,408.1 1667.8,429.8 1669.8,390.1 1672.0,379.8 1674.4,374.4 1677.4,381.6 1680.4,411.7 1682.2,418.9 1684.6,399.7 1686.7,388.9 1690.0,400.9 1692.4,402.1 1695.1,418.9 1697.9,393.7 1699.1,382.3 1703.0,415.9 1705.7,400.9 1707.5,399.7 1709.9,402.1 1711.4,396.1 1715.0,409.9 1718.0,423.1 1719.8,421.9 1721.6,391.3 1723.5,388.9 1727.7,390.1 1729.5,420.1 1731.0,438.8 1732.5,431.0 1734.3,402.1 1736.1,393.1 1738.7,392.5 1740.9,414.1 1742.7,428.6 1745.7,432.2 1748.1,429.8 1749.6,414.1 1751.5,403.3 1753.5,411.7 1755.1,412.3 1757.7,394.3 1760.1,400.9 1762.5,403.9 1764.3,414.1 1766.8,450.2 1768.3,459.8 1770.4,450.2 1773.4,401.5 1775.5,412.9 1777.6,414.1 1779.4,411.7 1781.5,431.0 1784.2,405.7 1785.6,391.9 1787.8,417.7 1789.6,431.6 1792.0,414.7 1794.4,434.6 1796.2,435.8 1798.0,431.0 1800.4,412.3 1804.4,432.8 1807.9,411.7 1810.1,425.5 1811.9,426.8 1813.9,402.7 1816.9,458.6 1819.1,420.1 1820.9,394.9 1823.3,406.3 1825.7,422.5 1826.9,426.2 1829.3,468.2 1830.5,482.7 1832.9,463.4 1835.9,446.0 1840.1,450.8 1841.3,449.0 1842.5,426.2 1845.5,490.5 1847.3,432.2 1848.8,399.1 1851.5,406.9 1854.6,406.9 1857.0,423.7 1858.8,431.0 1860.6,434.6 1862.4,468.2 1864.2,485.7 1866.2,457.4 1867.8,459.8 1869.0,477.9 1870.2,427.4 1872.6,400.3 1874.4,399.7 1876.8,412.9 1878.6,427.4 1880.1,433.4 1880.7,470.1 1881.9,453.8 1884.6,492.3 1886.2,455.0 1887.6,453.8 1889.4,468.2 1890.0,451.4 1891.2,479.1 1892.4,444.2 1894.2,424.9 1895.8,425.5 1898.5,397.9 1900.6,420.1 1902.7,443.0 1904.5,449.0 1906.3,485.1 1908.1,449.0 1909.9,473.1 1910.2,456.2 1912.0,468.2 1913.8,457.4 1915.6,463.4 1917.1,479.1 1918.3,475.5 1919.2,432.2 1921.0,408.1 1922.9,399.1 1924.7,406.9 1927.1,412.9 1928.9,412.3 1930.7,432.2 1931.9,452.6 1933.1,417.7 1935.5,404.5 1937.3,414.1 1938.7,427.4 1940.3,426.8 1942.1,451.4 1943.9,475.5 1946.3,480.3 1947.5,456.2 1949.3,427.4 1951.5,421.9 1955.3,423.7 1957.1,429.8 1958.9,441.8 1961.3,437.0 1963.7,434.6 1965.5,453.8 1966.8,480.3 1969.2,447.8 1970.7,471.9 1972.8,449.6 1974.3,455.0 1976.4,465.8 1978.2,432.2 1980.0,410.5 1982.4,403.3 1984.2,391.3 1986.4,381.0 1989.0,394.9 1990.8,408.1 1992.4,409.3 1994.4,427.4 1995.6,446.6 1997.2,451.4 1999.2,481.5 2001.0,453.8 2002.8,435.8 2004.0,476.1 2005.8,434.6 2007.0,396.1 2008.8,378.6 2011.3,397.3 2013.1,398.5 2014.3,409.3 2015.7,411.7 2017.3,432.2 2019.1,449.6 2021.2,429.2 2022.9,437.0 2024.5,468.2 2026.3,482.7 2028.7,453.8 2030.5,453.8 2032.3,480.3 2033.7,453.8 2035.3,405.1 2036.9,404.5 2038.3,432.2 2040.1,455.0 2041.9,427.4 2043.7,407.5 2045.8,423.7 2047.9,403.3 2050.6,432.2 2052.1,468.2 2053.4,480.3 2055.8,465.8 2057.6,473.1 2059.0,450.2 2061.8,495.3 2063.3,455.0 2066.6,474.9 2068.4,444.2 2069.8,402.1 2072.0,381.6 2073.8,399.7 2075.4,421.3 2076.8,411.7 2078.6,415.3 2080.4,432.2 2082.2,438.2 2083.4,415.3 2085.8,432.2 2087.0,468.2 2088.8,492.3 2090.3,441.8 2092.2,462.2 2093.6,451.4 2095.4,468.2 2097.3,475.5 2098.7,462.2 2100.9,492.9 2102.7,486.3 2103.9,444.2 2105.7,411.7 2107.1,396.1 2108.9,378.6" fill="none" stroke="#0f0fe8" stroke-width="2.9" stroke-linejoin="round" stroke-linecap="round"/>
<path d="M1502.7 525.7v-6.7M1502.7 321.7v6.7M1563.3 525.7v-6.7M1563.3 321.7v6.7M1624.0 525.7v-6.7M1624.0 321.7v6.7M1684.6 525.7v-6.7M1684.6 321.7v6.7M1745.2 525.7v-6.7M1745.2 321.7v6.7M1805.8 525.7v-6.7M1805.8 321.7v6.7M1866.5 525.7v-6.7M1866.5 321.7v6.7M1927.1 525.7v-6.7M1927.1 321.7v6.7M1987.7 525.7v-6.7M1987.7 321.7v6.7M2048.4 525.7v-6.7M2048.4 321.7v6.7M2109.0 525.7v-6.7M2109.0 321.7v6.7M1502.7 500.7h6.7M2109 500.7h-6.7M1502.7 467.7h6.7M2109 467.7h-6.7M1502.7 434.7h6.7M2109 434.7h-6.7M1502.7 401.7h6.7M2109 401.7h-6.7M1502.7 368.7h6.7M2109 368.7h-6.7M1502.7 335.7h6.7M2109 335.7h-6.7" stroke="#303030" stroke-width="1" fill="none"/>
<rect x="1502.7" y="321.7" width="606.3" height="204.0" fill="none" stroke="#303030" stroke-width="1.15"/>
<text class="t" x="1502.7" y="541.7" text-anchor="middle">2000</text>
<text class="t" x="1563.3" y="541.7" text-anchor="middle">1800</text>
<text class="t" x="1624.0" y="541.7" text-anchor="middle">1600</text>
<text class="t" x="1684.6" y="541.7" text-anchor="middle">1400</text>
<text class="t" x="1745.2" y="541.7" text-anchor="middle">1200</text>
<text class="t" x="1805.8" y="541.7" text-anchor="middle">1000</text>
<text class="t" x="1866.5" y="541.7" text-anchor="middle">800</text>
<text class="t" x="1927.1" y="541.7" text-anchor="middle">600</text>
<text class="t" x="1987.7" y="541.7" text-anchor="middle">400</text>
<text class="t" x="2048.4" y="541.7" text-anchor="middle">200</text>
<text class="t" x="2109.0" y="541.7" text-anchor="middle">0</text>
<text class="t" x="1499.1" y="505.2" text-anchor="end">9</text>
<text class="t" x="1499.1" y="472.2" text-anchor="end">10</text>
<text class="t" x="1499.1" y="439.2" text-anchor="end">11</text>
<text class="t" x="1499.1" y="406.2" text-anchor="end">12</text>
<text class="t" x="1499.1" y="373.2" text-anchor="end">13</text>
<text class="t" x="1499.1" y="340.2" text-anchor="end">14</text>
<text class="h" font-size="14.2" x="1805.7" y="315.8" text-anchor="middle">temperature Jebel</text>
<text class="a" x="1805.8" y="558.0" text-anchor="middle">time [ka]</text>
<text class="a" font-size="14.2" transform="translate(1479.0 423.2) rotate(-90)" text-anchor="middle">temperature (Celsius)</text>
<text class="L" x="1544.7" y="503.3">j)</text>
</g>
<g id="pc">
<path d="M98.8 633.3V839.3M159.3 633.3V839.3M219.8 633.3V839.3M280.3 633.3V839.3M340.8 633.3V839.3M401.3 633.3V839.3M461.8 633.3V839.3M522.3 633.3V839.3M582.8 633.3V839.3M38.3 823.0H643.3M38.3 797.3H643.3M38.3 771.7H643.3M38.3 746.0H643.3M38.3 720.3H643.3M38.3 694.6H643.3M38.3 669.0H643.3M38.3 643.3H643.3" stroke="#e3e3e3" stroke-width="1" fill="none"/>
<clipPath id="cc"><rect x="38.3" y="633.3" width="605.0" height="206.0"/></clipPath>
<polyline clip-path="url(#cc)" points="38.2,684.0 40.2,687.0 43.8,708.1 47.4,691.8 50.4,701.5 54.0,708.7 57.0,697.3 58.9,696.1 61.5,688.8 65.5,709.3 69.1,697.9 71.5,703.3 75.7,691.8 79.9,709.9 83.9,696.1 86.3,699.7 89.9,690.0 93.5,709.3 97.3,694.9 100.9,707.5 104.0,705.1 107.0,710.5 110.3,691.2 115.4,710.5 119.0,700.9 121.4,707.5 125.0,691.2 129.2,713.5 131.0,716.5 135.2,697.9 138.2,702.1 141.2,712.9 143.6,726.7 145.5,727.9 149.7,702.1 152.4,697.3 157.7,721.3 161.1,693.6 162.5,690.0 167.1,717.7 172.5,714.7 176.1,695.5 179.4,723.7 182.1,721.9 186.1,705.1 188.5,703.9 191.8,719.5 194.2,712.9 198.1,682.2 202.9,719.5 205.6,709.3 208.0,710.5 211.4,688.8 216.4,721.3 218.2,726.1 221.2,714.1 224.2,704.5 227.2,716.5 230.2,729.1 234.2,704.5 236.6,711.7 238.7,709.3 242.6,726.7 245.9,711.7 248.0,707.5 250.4,711.7 254.0,733.9 255.5,735.1 257.6,716.5 260.7,694.3 263.1,703.3 265.5,733.3 267.5,732.7 270.3,723.1 273.5,700.9 276.9,722.5 278.1,728.5 281.1,746.6 283.5,735.7 286.5,712.9 288.9,716.5 290.7,721.9 294.3,718.3 297.3,710.5 300.9,734.5 304.0,761.6 306.4,755.0 308.8,718.9 310.6,717.1 312.7,709.9 315.4,732.1 317.2,740.6 320.8,714.1 324.4,721.3 326.2,727.3 328.0,729.1 329.8,743.0 331.6,743.0 334.0,728.5 335.8,717.7 338.2,729.7 340.9,738.8 343.0,733.9 345.2,736.9 347.3,722.5 349.1,714.1 350.9,734.5 352.4,757.4 354.5,728.5 356.3,720.7 357.5,721.9 359.3,715.9 362.3,727.3 364.1,746.6 366.5,775.4 368.9,768.2 372.5,751.4 374.9,745.4 377.9,758.6 379.7,777.8 381.3,782.1 382.7,746.6 384.2,712.9 386.3,718.3 388.7,718.3 390.6,728.5 393.0,737.5 395.4,738.8 397.8,757.4 399.6,771.8 401.4,775.4 403.8,782.1 405.6,744.2 407.4,728.5 410.4,712.9 412.8,726.1 415.2,749.0 417.6,789.9 420.0,798.9 421.8,762.2 423.6,758.6 425.4,756.2 426.6,776.0 427.8,743.0 430.2,738.2 431.8,744.8 434.2,706.3 436.9,730.9 438.1,744.2 439.9,744.8 442.3,804.3 444.1,789.9 445.9,803.1 448.6,782.1 450.4,789.3 452.2,794.1 454.0,788.1 455.2,746.6 457.6,718.3 460.1,717.7 462.5,715.9 463.9,728.5 465.5,744.2 467.3,762.8 468.5,719.5 470.3,718.9 472.7,722.5 474.2,728.5 475.5,718.3 477.5,756.2 479.1,777.8 480.5,778.4 482.3,784.5 484.1,744.2 486.3,723.1 488.3,721.3 490.7,721.9 492.5,735.7 494.3,745.4 497.1,730.9 498.5,737.5 500.3,735.7 501.9,765.8 503.1,767.0 504.6,779.0 506.0,788.1 508.2,778.4 509.1,769.4 511.2,768.2 513.0,755.0 514.8,724.9 516.3,721.9 518.4,721.3 520.2,700.9 522.0,690.6 525.0,706.9 527.4,722.5 529.2,745.4 531.0,765.8 532.2,767.0 534.6,784.5 536.4,770.6 537.3,758.0 538.2,758.0 539.7,780.8 540.9,758.6 542.4,705.7 544.0,694.3 546.1,709.3 547.6,723.7 549.1,706.9 550.9,728.5 553.3,756.2 555.1,759.2 556.5,739.4 558.1,741.8 559.9,770.6 561.7,780.2 564.1,759.2 565.9,782.7 567.1,792.3 568.3,782.7 569.7,724.9 570.9,705.1 572.5,706.9 574.3,736.9 575.9,758.6 577.7,735.1 579.1,731.5 581.5,747.8 583.7,711.1 586.3,735.7 587.8,764.6 589.0,764.0 590.6,772.4 592.4,777.8 593.6,785.7 595.4,790.5 597.2,780.2 598.6,764.0 600.2,777.8 601.4,785.7 603.2,777.8 605.0,720.1 607.0,694.3 609.8,719.5 611.0,714.7 612.8,714.7 614.0,728.5 615.8,752.6 617.4,752.0 618.8,720.7 620.6,730.3 621.8,732.1 623.6,764.6 624.6,768.2 626.0,753.2 627.5,764.6 629.0,778.4 630.6,779.0 632.6,764.0 634.5,780.2 636.3,800.1 638.7,795.9 639.9,749.0 641.1,723.7 643.7,697.3" fill="none" stroke="#0f0fe8" stroke-width="2.9" stroke-linejoin="round" stroke-linecap="round"/>
<path d="M38.3 839.3v-6.7M38.3 633.3v6.7M98.8 839.3v-6.7M98.8 633.3v6.7M159.3 839.3v-6.7M159.3 633.3v6.7M219.8 839.3v-6.7M219.8 633.3v6.7M280.3 839.3v-6.7M280.3 633.3v6.7M340.8 839.3v-6.7M340.8 633.3v6.7M401.3 839.3v-6.7M401.3 633.3v6.7M461.8 839.3v-6.7M461.8 633.3v6.7M522.3 839.3v-6.7M522.3 633.3v6.7M582.8 839.3v-6.7M582.8 633.3v6.7M643.3 839.3v-6.7M643.3 633.3v6.7M38.3 823.0h6.7M643.3 823.0h-6.7M38.3 797.3h6.7M643.3 797.3h-6.7M38.3 771.7h6.7M643.3 771.7h-6.7M38.3 746.0h6.7M643.3 746.0h-6.7M38.3 720.3h6.7M643.3 720.3h-6.7M38.3 694.6h6.7M643.3 694.6h-6.7M38.3 669.0h6.7M643.3 669.0h-6.7M38.3 643.3h6.7M643.3 643.3h-6.7" stroke="#303030" stroke-width="1" fill="none"/>
<rect x="38.3" y="633.3" width="605.0" height="206.0" fill="none" stroke="#303030" stroke-width="1.15"/>
<text class="t" x="38.3" y="854.7" text-anchor="middle">2000</text>
<text class="t" x="98.8" y="854.7" text-anchor="middle">1800</text>
<text class="t" x="159.3" y="854.7" text-anchor="middle">1600</text>
<text class="t" x="219.8" y="854.7" text-anchor="middle">1400</text>
<text class="t" x="280.3" y="854.7" text-anchor="middle">1200</text>
<text class="t" x="340.8" y="854.7" text-anchor="middle">1000</text>
<text class="t" x="401.3" y="854.7" text-anchor="middle">800</text>
<text class="t" x="461.8" y="854.7" text-anchor="middle">600</text>
<text class="t" x="522.3" y="854.7" text-anchor="middle">400</text>
<text class="t" x="582.8" y="854.7" text-anchor="middle">200</text>
<text class="t" x="643.3" y="854.7" text-anchor="middle">0</text>
<text class="t" x="34.7" y="827.5" text-anchor="end">13</text>
<text class="t" x="34.7" y="801.8" text-anchor="end">14</text>
<text class="t" x="34.7" y="776.2" text-anchor="end">15</text>
<text class="t" x="34.7" y="750.5" text-anchor="end">16</text>
<text class="t" x="34.7" y="724.8" text-anchor="end">17</text>
<text class="t" x="34.7" y="699.1" text-anchor="end">18</text>
<text class="t" x="34.7" y="673.5" text-anchor="end">19</text>
<text class="t" x="34.7" y="647.8" text-anchor="end">20</text>
<text class="h" font-size="10.7" x="342.7" y="624.8" text-anchor="middle">Temperature Southern Africa</text>
<text class="a" x="340.8" y="871.3" text-anchor="middle">time [ka]</text>
<text class="a" font-size="14.2" transform="translate(14.5 735.8) rotate(-90)" text-anchor="middle">temperature (Celsius)</text>
<text class="L" x="71.3" y="815.1">c)</text>
</g>
<g id="pg">
<path d="M842.3 629.5V834.7M902.8 629.5V834.7M963.4 629.5V834.7M1023.9 629.5V834.7M1084.5 629.5V834.7M1145.1 629.5V834.7M1205.6 629.5V834.7M1266.2 629.5V834.7M1326.7 629.5V834.7M781.7 807.3H1387.3M781.7 770.0H1387.3M781.7 732.6H1387.3M781.7 695.3H1387.3M781.7 658.0H1387.3" stroke="#e3e3e3" stroke-width="1" fill="none"/>
<clipPath id="cg"><rect x="781.7" y="629.5" width="605.6" height="205.2"/></clipPath>
<polyline clip-path="url(#cg)" points="781.8,664.5 784.0,677.3 786.8,685.8 789.2,671.6 792.0,669.5 796.3,714.1 800.3,669.5 803.1,671.6 805.9,665.2 809.5,705.6 811.3,705.6 814.0,670.9 816.2,675.8 818.4,682.9 820.1,675.1 824.4,704.2 827.6,665.2 831.5,709.2 834.7,671.6 837.1,691.4 841.4,663.1 844.5,709.2 846.4,710.6 848.8,682.9 852.0,675.8 855.3,666.6 859.1,724.0 862.7,670.9 864.8,687.9 866.5,663.8 868.0,677.3 870.0,666.6 872.2,712.7 876.8,677.3 879.0,677.3 881.4,688.6 883.2,698.5 885.3,699.9 887.5,712.7 889.3,711.3 892.0,680.1 894.6,696.4 897.4,688.6 899.5,697.8 901.2,696.4 903.4,670.2 905.9,687.2 908.3,690.7 910.9,715.5 915.1,682.2 917.7,690.0 919.4,686.5 923.3,718.4 926.5,702.8 929.6,682.2 933.6,712.0 937.1,677.3 939.2,684.4 942.3,665.9 946.6,736.1 949.9,670.2 952.0,677.3 954.8,669.5 959.8,718.4 963.3,682.9 965.5,681.5 968.7,707.7 971.6,692.9 974.3,723.3 977.8,672.3 981.1,721.9 984.6,690.0 987.2,701.4 989.0,691.4 990.3,688.6 993.9,717.0 996.7,722.6 998.9,713.4 1000.7,680.1 1003.8,689.3 1005.9,686.5 1009.5,746.0 1013.7,685.8 1015.6,690.7 1017.6,687.9 1021.3,732.5 1023.7,720.5 1026.2,731.1 1030.0,701.4 1032.2,718.4 1036.4,682.2 1039.3,699.9 1041.1,702.1 1043.5,718.4 1045.6,758.1 1047.8,760.2 1049.9,735.4 1052.0,694.0 1055.6,725.5 1058.4,706.3 1060.8,734.0 1064.5,681.2 1068.0,735.4 1071.2,706.3 1073.7,736.1 1078.3,708.4 1082.5,738.2 1086.8,698.5 1089.6,731.8 1092.4,697.8 1095.7,768.7 1099.5,681.2 1103.5,718.4 1105.9,724.8 1108.7,786.4 1111.6,758.1 1114.4,742.5 1119.1,760.2 1120.8,745.3 1123.9,798.5 1127.5,688.3 1131.0,708.4 1133.3,699.2 1137.1,728.3 1139.2,730.4 1142.8,790.0 1144.9,781.5 1147.0,789.2 1149.2,724.0 1151.7,692.9 1156.2,714.1 1158.4,733.3 1160.5,769.4 1161.9,769.4 1163.3,792.1 1164.8,750.3 1166.5,745.3 1170.1,811.2 1173.0,712.7 1174.0,711.3 1175.4,720.5 1177.5,692.1 1179.6,712.7 1181.8,752.4 1183.2,755.2 1185.3,780.7 1186.7,761.6 1188.1,792.1 1189.0,792.1 1190.3,791.4 1192.5,780.7 1194.6,770.8 1197.1,795.6 1198.9,732.5 1201.4,688.6 1204.5,716.2 1207.4,702.1 1210.5,758.1 1212.3,702.8 1214.2,693.6 1217.3,741.1 1219.0,736.8 1220.8,746.7 1223.2,777.2 1225.5,782.2 1227.2,741.1 1229.3,718.4 1232.6,734.0 1235.3,721.2 1238.3,736.8 1240.0,734.0 1241.4,738.2 1242.8,733.3 1244.2,741.1 1245.6,788.5 1248.2,766.6 1249.9,773.7 1251.6,781.5 1253.4,775.1 1254.9,791.4 1256.7,773.7 1258.4,721.2 1260.1,697.1 1262.4,700.7 1265.2,677.3 1269.0,705.6 1271.2,706.3 1273.3,717.0 1274.7,741.8 1276.1,742.5 1278.3,780.0 1281.1,756.6 1282.5,760.9 1283.2,789.2 1284.6,755.2 1286.8,668.0 1288.2,667.3 1291.0,712.7 1292.4,702.1 1295.0,705.6 1297.8,749.6 1300.2,719.8 1302.4,746.7 1305.2,787.8 1307.8,750.3 1311.6,777.2 1314.4,702.8 1315.8,702.1 1319.1,765.9 1322.9,691.4 1325.0,717.0 1327.2,707.0 1330.0,735.4 1331.4,790.0 1333.6,781.5 1335.7,755.9 1338.5,782.2 1340.2,807.0 1342.1,784.3 1344.2,798.5 1346.3,798.5 1348.4,712.7 1350.6,670.2 1354.8,729.0 1357.4,702.8 1361.2,737.5 1362.9,712.0 1365.0,726.9 1367.6,801.3 1369.7,752.4 1371.6,744.6 1373.5,746.7 1375.4,776.5 1376.8,772.2 1380.1,815.5 1382.5,799.2 1383.9,712.7 1386.0,682.9 1387.3,676.6" fill="none" stroke="#0f0fe8" stroke-width="2.9" stroke-linejoin="round" stroke-linecap="round"/>
<path d="M781.7 834.7v-6.7M781.7 629.5v6.7M842.3 834.7v-6.7M842.3 629.5v6.7M902.8 834.7v-6.7M902.8 629.5v6.7M963.4 834.7v-6.7M963.4 629.5v6.7M1023.9 834.7v-6.7M1023.9 629.5v6.7M1084.5 834.7v-6.7M1084.5 629.5v6.7M1145.1 834.7v-6.7M1145.1 629.5v6.7M1205.6 834.7v-6.7M1205.6 629.5v6.7M1266.2 834.7v-6.7M1266.2 629.5v6.7M1326.7 834.7v-6.7M1326.7 629.5v6.7M1387.3 834.7v-6.7M1387.3 629.5v6.7M781.7 807.3h6.7M1387.3 807.3h-6.7M781.7 770.0h6.7M1387.3 770.0h-6.7M781.7 732.6h6.7M1387.3 732.6h-6.7M781.7 695.3h6.7M1387.3 695.3h-6.7M781.7 658.0h6.7M1387.3 658.0h-6.7" stroke="#303030" stroke-width="1" fill="none"/>
<rect x="781.7" y="629.5" width="605.6" height="205.2" fill="none" stroke="#303030" stroke-width="1.15"/>
<text class="t" x="781.7" y="849.9" text-anchor="middle">2000</text>
<text class="t" x="842.3" y="849.9" text-anchor="middle">1800</text>
<text class="t" x="902.8" y="849.9" text-anchor="middle">1600</text>
<text class="t" x="963.4" y="849.9" text-anchor="middle">1400</text>
<text class="t" x="1023.9" y="849.9" text-anchor="middle">1200</text>
<text class="t" x="1084.5" y="849.9" text-anchor="middle">1000</text>
<text class="t" x="1145.1" y="849.9" text-anchor="middle">800</text>
<text class="t" x="1205.6" y="849.9" text-anchor="middle">600</text>
<text class="t" x="1266.2" y="849.9" text-anchor="middle">400</text>
<text class="t" x="1326.7" y="849.9" text-anchor="middle">200</text>
<text class="t" x="1387.3" y="849.9" text-anchor="middle">0</text>
<text class="t" x="778.1" y="811.8" text-anchor="end">5</text>
<text class="t" x="778.1" y="774.5" text-anchor="end">6</text>
<text class="t" x="778.1" y="737.1" text-anchor="end">7</text>
<text class="t" x="778.1" y="699.8" text-anchor="end">8</text>
<text class="t" x="778.1" y="662.5" text-anchor="end">9</text>
<text class="h" font-size="14.2" x="1084.3" y="623.4" text-anchor="middle">temperature Sima de los Huesos</text>
<text class="a" x="1084.5" y="867.3" text-anchor="middle">time [ka]</text>
<text class="a" font-size="14.2" transform="translate(765.8 731.6) rotate(-90)" text-anchor="middle">temperature (Celsius)</text>
<text class="L" x="806" y="814">g)</text>
</g>
<g id="pk">
<path d="M1563.3 623.5V828.8M1624.0 623.5V828.8M1684.6 623.5V828.8M1745.2 623.5V828.8M1805.8 623.5V828.8M1866.5 623.5V828.8M1927.1 623.5V828.8M1987.7 623.5V828.8M2048.4 623.5V828.8M1502.7 815.7H2109M1502.7 786.0H2109M1502.7 756.4H2109M1502.7 726.7H2109M1502.7 697.0H2109M1502.7 667.4H2109M1502.7 637.7H2109" stroke="#e3e3e3" stroke-width="1" fill="none"/>
<clipPath id="ck"><rect x="1502.7" y="623.5" width="606.3" height="205.3"/></clipPath>
<polyline clip-path="url(#ck)" points="1503.0,678.6 1505.4,685.3 1507.5,691.3 1509.4,707.5 1511.4,690.1 1514.4,685.9 1518.3,704.5 1520.7,687.7 1522.3,683.5 1524.7,686.5 1527.1,684.1 1528.9,685.9 1531.9,703.3 1534.3,691.3 1536.1,684.7 1539.1,693.7 1542.7,688.3 1545.7,701.5 1548.1,687.7 1550.3,682.3 1552.9,698.5 1554.7,684.1 1556.5,684.1 1559.5,699.1 1562.8,685.9 1565.5,699.7 1568.0,702.1 1571.0,690.7 1574.6,689.5 1577.9,684.7 1580.0,700.9 1581.5,706.3 1584.2,687.7 1586.0,697.9 1587.6,684.7 1589.6,690.1 1591.4,689.5 1593.8,704.5 1595.6,704.5 1598.0,692.5 1600.4,685.9 1603.4,694.9 1606.4,703.3 1608.8,716.5 1610.4,720.1 1612.5,698.5 1613.7,688.3 1615.5,691.3 1617.3,690.1 1620.3,704.5 1622.1,708.1 1624.5,687.7 1625.7,684.7 1629.3,691.3 1631.7,702.1 1633.7,713.5 1636.5,696.1 1638.3,697.3 1640.1,693.7 1642.5,699.7 1646.1,715.3 1649.7,694.9 1652.1,691.9 1655.8,712.9 1659.0,690.1 1661.8,702.7 1663.6,685.3 1664.8,683.5 1666.6,708.1 1668.1,721.9 1670.2,699.7 1671.4,708.1 1673.2,702.1 1674.0,709.3 1675.6,690.1 1677.4,685.9 1680.4,712.9 1682.6,718.3 1685.2,699.7 1687.4,693.7 1691.2,708.1 1693.0,699.1 1696.3,718.9 1699.7,685.9 1703.3,711.7 1705.9,699.1 1708.1,710.5 1709.9,710.5 1710.8,697.3 1713.0,694.3 1715.4,705.7 1718.0,724.9 1719.8,725.5 1721.6,698.5 1724.1,692.7 1728.3,695.5 1730.1,724.9 1731.9,732.2 1734.3,721.3 1735.5,700.3 1738.5,695.5 1740.3,696.1 1742.1,716.5 1744.3,728.0 1746.3,725.5 1748.7,728.6 1750.3,702.1 1751.7,697.9 1755.1,718.9 1758.3,697.9 1760.7,703.3 1763.7,703.9 1765.5,724.9 1768.0,746.6 1770.7,749.0 1772.8,710.5 1774.3,699.1 1777.0,711.7 1778.8,710.5 1780.0,702.7 1782.4,724.9 1784.2,730.4 1786.8,694.9 1789.6,725.5 1792.6,705.7 1795.6,732.2 1797.4,735.2 1800.8,705.1 1804.6,733.4 1805.8,734.0 1808.8,706.9 1811.9,725.5 1814.9,702.1 1817.3,747.2 1819.1,732.2 1820.3,708.1 1821.7,698.5 1824.5,714.1 1826.9,715.3 1828.7,739.4 1830.5,762.8 1832.3,762.2 1835.3,749.0 1838.1,734.6 1840.7,744.2 1843.1,742.4 1845.5,766.4 1847.3,732.2 1849.4,695.5 1852.1,711.7 1855.2,712.9 1857.6,727.4 1859.4,731.6 1861.2,731.6 1863.0,756.2 1864.5,767.0 1866.6,760.4 1869.0,762.2 1870.2,732.2 1873.2,700.3 1875.0,703.3 1878.0,717.7 1880.4,756.2 1882.2,771.9 1884.6,776.1 1885.8,752.6 1887.6,746.6 1889.4,744.2 1891.2,768.2 1892.2,739.4 1894.8,713.5 1896.6,712.9 1898.5,708.7 1901.1,716.5 1903.9,735.8 1906.9,782.7 1908.7,770.1 1909.9,768.2 1910.2,768.2 1911.4,774.3 1913.2,769.5 1916.2,771.9 1918.0,772.5 1919.2,738.2 1921.0,716.5 1923.8,694.9 1925.9,712.9 1928.3,727.4 1929.8,714.7 1931.9,742.4 1933.7,717.7 1936.7,700.9 1938.5,720.1 1939.9,718.9 1942.1,749.0 1944.5,759.8 1946.7,767.0 1948.1,744.2 1949.9,717.7 1952.0,707.5 1954.1,718.9 1956.5,728.6 1959.5,720.7 1962.3,732.8 1964.7,716.5 1966.4,749.0 1968.3,765.8 1970.4,770.7 1972.2,762.8 1975.2,758.6 1977.6,755.6 1978.8,744.2 1980.3,705.7 1983.2,703.9 1984.6,728.6 1986.4,708.1 1988.0,684.1 1990.2,705.7 1992.0,713.5 1994.4,731.0 1995.6,749.0 1997.4,756.2 1999.6,767.0 2001.6,749.6 2002.8,749.0 2004.0,767.0 2005.6,744.2 2006.4,708.1 2007.9,693.1 2009.5,723.7 2010.9,698.5 2012.5,710.5 2013.7,708.1 2014.9,717.7 2016.1,713.5 2017.9,727.4 2019.7,752.6 2022.4,728.0 2024.5,753.8 2026.3,765.8 2028.7,750.2 2031.7,767.6 2033.5,750.2 2035.3,702.7 2037.1,700.3 2039.5,732.2 2041.3,749.0 2043.1,727.4 2044.9,711.7 2046.7,717.7 2047.9,713.5 2049.7,722.5 2050.9,722.5 2052.5,749.0 2053.7,747.8 2055.2,764.6 2057.6,767.0 2058.8,763.4 2060.9,771.9 2063.0,761.6 2065.4,769.5 2067.2,756.2 2069.6,708.1 2070.8,734.6 2072.2,696.1 2073.2,688.3 2075.0,711.7 2076.8,721.3 2079.8,715.9 2082.2,738.2 2083.4,717.7 2085.8,718.9 2087.6,744.2 2089.4,761.0 2090.6,749.6 2092.4,747.2 2094.6,749.6 2096.0,761.0 2097.3,755.0 2099.7,768.2 2101.5,782.1 2103.3,782.7 2104.5,744.2 2105.7,715.3 2107.8,710.5 2108.9,722.5" fill="none" stroke="#0f0fe8" stroke-width="2.9" stroke-linejoin="round" stroke-linecap="round"/>
<path d="M1502.7 828.8v-6.7M1502.7 623.5v6.7M1563.3 828.8v-6.7M1563.3 623.5v6.7M1624.0 828.8v-6.7M1624.0 623.5v6.7M1684.6 828.8v-6.7M1684.6 623.5v6.7M1745.2 828.8v-6.7M1745.2 623.5v6.7M1805.8 828.8v-6.7M1805.8 623.5v6.7M1866.5 828.8v-6.7M1866.5 623.5v6.7M1927.1 828.8v-6.7M1927.1 623.5v6.7M1987.7 828.8v-6.7M1987.7 623.5v6.7M2048.4 828.8v-6.7M2048.4 623.5v6.7M2109.0 828.8v-6.7M2109.0 623.5v6.7M1502.7 815.7h6.7M2109 815.7h-6.7M1502.7 786.0h6.7M2109 786.0h-6.7M1502.7 756.4h6.7M2109 756.4h-6.7M1502.7 726.7h6.7M2109 726.7h-6.7M1502.7 697.0h6.7M2109 697.0h-6.7M1502.7 667.4h6.7M2109 667.4h-6.7M1502.7 637.7h6.7M2109 637.7h-6.7" stroke="#303030" stroke-width="1" fill="none"/>
<rect x="1502.7" y="623.5" width="606.3" height="205.3" fill="none" stroke="#303030" stroke-width="1.15"/>
<text class="t" x="1502.7" y="844.8" text-anchor="middle">2000</text>
<text class="t" x="1563.3" y="844.8" text-anchor="middle">1800</text>
<text class="t" x="1624.0" y="844.8" text-anchor="middle">1600</text>
<text class="t" x="1684.6" y="844.8" text-anchor="middle">1400</text>
<text class="t" x="1745.2" y="844.8" text-anchor="middle">1200</text>
<text class="t" x="1805.8" y="844.8" text-anchor="middle">1000</text>
<text class="t" x="1866.5" y="844.8" text-anchor="middle">800</text>
<text class="t" x="1927.1" y="844.8" text-anchor="middle">600</text>
<text class="t" x="1987.7" y="844.8" text-anchor="middle">400</text>
<text class="t" x="2048.4" y="844.8" text-anchor="middle">200</text>
<text class="t" x="2109.0" y="844.8" text-anchor="middle">0</text>
<text class="t" x="1499.1" y="820.2" text-anchor="end">14</text>
<text class="t" x="1499.1" y="790.5" text-anchor="end">15</text>
<text class="t" x="1499.1" y="760.9" text-anchor="end">16</text>
<text class="t" x="1499.1" y="731.2" text-anchor="end">17</text>
<text class="t" x="1499.1" y="701.5" text-anchor="end">18</text>
<text class="t" x="1499.1" y="671.9" text-anchor="end">19</text>
<text class="t" x="1499.1" y="642.2" text-anchor="end">20</text>
<text class="h" font-size="14.2" x="1805.7" y="617.8" text-anchor="middle">temperature Challa</text>
<text class="a" x="1805.8" y="861.3" text-anchor="middle">time [ka]</text>
<text class="a" font-size="14.2" transform="translate(1479.0 725.6) rotate(-90)" text-anchor="middle">temperature (Celsius)</text>
<text class="L" x="1541.5" y="808.3">k)</text>
</g>
<g id="pd">
<path d="M98.8 913.3V1117.3M159.3 913.3V1117.3M219.8 913.3V1117.3M280.3 913.3V1117.3M340.8 913.3V1117.3M401.3 913.3V1117.3M461.8 913.3V1117.3M522.3 913.3V1117.3M582.8 913.3V1117.3M38.3 1107.3H643.3M38.3 1061.0H643.3M38.3 1014.7H643.3M38.3 968.4H643.3M38.3 922.1H643.3" stroke="#e3e3e3" stroke-width="1" fill="none"/>
<clipPath id="cd"><rect x="38.3" y="913.3" width="605.0" height="204.0"/></clipPath>
<polyline clip-path="url(#cd)" points="38.2,988.1 40.8,997.1 43.2,998.3 44.7,1015.1 46.2,998.9 49.8,989.3 53.4,1020.6 55.8,994.1 58.0,986.9 61.0,996.5 63.4,989.3 67.3,1018.8 71.5,986.9 74.7,1005.5 77.5,992.9 79.5,991.1 81.7,1014.5 85.3,983.9 88.6,1016.9 91.6,986.9 95.2,1009.7 98.5,991.1 102.8,1020.6 107.0,994.1 110.3,1000.1 113.0,988.7 116.6,1025.4 120.2,990.5 122.0,1004.9 123.2,987.5 125.2,1000.1 127.4,988.1 130.1,1018.2 135.8,994.1 139.7,1016.9 141.8,1001.3 144.2,1015.7 146.1,1029.6 149.3,998.3 152.1,1003.7 153.3,1001.3 156.9,1016.3 160.1,991.1 162.3,1000.1 165.9,1002.5 168.3,1028.4 171.9,1000.1 174.9,1009.7 177.6,989.9 181.3,1027.8 185.1,1003.7 188.1,986.9 192.1,1014.5 194.2,993.5 197.2,1016.3 200.8,979.1 203.4,1034.4 206.2,997.7 209.6,1018.2 212.8,989.9 216.4,1019.4 218.2,1029.6 222.2,1001.3 226.0,1021.8 228.7,989.9 231.8,1038.0 235.1,987.5 238.1,1031.4 240.5,997.1 243.5,1019.4 245.9,1023.0 247.8,1007.9 249.8,1012.1 251.4,1012.1 252.8,1033.8 254.9,1038.6 257.0,1004.3 258.9,1001.9 260.9,1010.3 264.3,996.5 267.3,1050.6 270.3,1007.3 271.8,1012.1 274.7,1004.3 277.5,1030.8 279.1,1030.8 280.7,1024.8 283.9,1051.2 286.5,1012.1 287.7,1010.9 290.4,1029.0 293.1,1004.9 296.1,1017.5 299.1,1018.8 301.9,1044.0 303.4,1047.0 305.8,1056.6 309.1,1008.5 311.2,1016.9 313.0,1035.0 315.1,1015.1 318.4,1050.6 321.6,1000.1 323.6,1004.9 325.6,1036.2 328.0,1010.9 329.8,1015.7 332.0,1053.6 335.2,1023.0 337.6,1021.8 341.6,1051.8 344.6,1010.9 346.9,1053.0 350.5,1006.7 353.3,1066.9 356.6,1003.1 359.9,1029.0 361.1,1037.4 362.9,1021.8 365.3,1047.0 367.1,1081.9 369.5,1075.9 372.5,1041.0 374.9,1055.4 376.7,1048.2 378.2,998.3 381.3,1083.7 384.8,1004.3 388.1,1024.2 390.6,1020.6 393.6,1050.0 395.7,1044.6 399.3,1077.1 401.7,1013.3 404.4,1076.5 407.8,1012.1 409.0,1010.9 411.0,1019.4 412.8,1014.5 414.6,1030.2 416.4,1033.8 418.2,1036.2 420.0,1086.7 422.7,1059.0 423.6,1041.0 425.4,1001.3 427.0,1014.5 429.0,1050.6 430.8,1029.0 433.3,1028.4 435.1,1024.2 436.3,1015.7 439.3,1042.2 441.1,1083.7 443.5,1013.9 445.9,1048.2 447.1,1027.8 449.0,1036.2 451.0,1004.9 453.4,1001.9 454.4,977.9 456.2,1029.0 458.3,1004.9 459.8,1003.7 461.9,1031.4 463.4,1043.4 465.1,1021.8 467.5,1057.8 469.7,1019.4 471.8,1013.9 474.5,1029.6 476.9,1031.4 478.7,1055.4 479.9,1065.1 482.3,1078.3 484.1,1065.1 486.5,1024.2 488.6,1010.9 490.7,1041.0 492.5,1040.4 494.9,1032.6 497.6,1054.2 499.7,1023.6 502.4,1070.5 505.2,1032.6 506.4,1051.2 508.2,1043.4 509.4,1001.3 511.2,1014.5 512.4,997.7 514.2,957.4 516.0,1014.5 517.8,1010.9 519.6,1023.0 521.6,1008.5 523.2,994.7 525.6,1015.7 527.4,1015.1 529.2,1030.2 531.0,1054.2 533.4,1071.7 535.8,1051.8 536.8,1037.4 538.2,1000.1 539.4,1036.2 540.6,967.6 542.1,1036.2 543.3,1003.7 546.1,1006.7 547.9,1021.8 551.5,1023.0 553.3,1042.2 555.1,1063.9 556.9,1043.4 558.7,1045.8 561.3,1077.7 564.1,1038.6 566.5,1067.5 567.9,1027.2 569.0,1059.0 570.5,1020.6 573.7,1010.3 576.5,1057.2 579.7,1015.1 582.1,1030.2 584.5,1044.6 586.3,1028.4 588.1,1048.2 590.2,1083.1 591.8,1057.8 593.0,1072.3 594.8,1015.1 596.9,1069.3 599.0,1024.2 600.8,1018.8 602.6,992.3 604.0,1053.0 606.2,1024.2 608.6,993.5 611.0,1019.4 612.8,1035.0 614.6,1025.4 617.6,1059.6 618.8,1038.6 620.0,1051.8 621.8,1027.8 624.2,1070.5 625.8,1033.8 627.2,1061.5 629.0,1051.8 630.8,1065.1 632.0,1043.4 633.0,1069.3 634.5,1043.4 636.3,1019.4 638.7,998.9 639.9,1050.0 641.1,1019.4 642.3,1029.0 643.7,1009.1" fill="none" stroke="#0f0fe8" stroke-width="2.9" stroke-linejoin="round" stroke-linecap="round"/>
<path d="M38.3 1117.3v-6.7M38.3 913.3v6.7M98.8 1117.3v-6.7M98.8 913.3v6.7M159.3 1117.3v-6.7M159.3 913.3v6.7M219.8 1117.3v-6.7M219.8 913.3v6.7M280.3 1117.3v-6.7M280.3 913.3v6.7M340.8 1117.3v-6.7M340.8 913.3v6.7M401.3 1117.3v-6.7M401.3 913.3v6.7M461.8 1117.3v-6.7M461.8 913.3v6.7M522.3 1117.3v-6.7M522.3 913.3v6.7M582.8 1117.3v-6.7M582.8 913.3v6.7M643.3 1117.3v-6.7M643.3 913.3v6.7M38.3 1107.3h6.7M643.3 1107.3h-6.7M38.3 1061.0h6.7M643.3 1061.0h-6.7M38.3 1014.7h6.7M643.3 1014.7h-6.7M38.3 968.4h6.7M643.3 968.4h-6.7M38.3 922.1h6.7M643.3 922.1h-6.7" stroke="#303030" stroke-width="1" fill="none"/>
<rect x="38.3" y="913.3" width="605.0" height="204.0" fill="none" stroke="#303030" stroke-width="1.15"/>
<text class="t" x="38.3" y="1133.4" text-anchor="middle">2000</text>
<text class="t" x="98.8" y="1133.4" text-anchor="middle">1800</text>
<text class="t" x="159.3" y="1133.4" text-anchor="middle">1600</text>
<text class="t" x="219.8" y="1133.4" text-anchor="middle">1400</text>
<text class="t" x="280.3" y="1133.4" text-anchor="middle">1200</text>
<text class="t" x="340.8" y="1133.4" text-anchor="middle">1000</text>
<text class="t" x="401.3" y="1133.4" text-anchor="middle">800</text>
<text class="t" x="461.8" y="1133.4" text-anchor="middle">600</text>
<text class="t" x="522.3" y="1133.4" text-anchor="middle">400</text>
<text class="t" x="582.8" y="1133.4" text-anchor="middle">200</text>
<text class="t" x="643.3" y="1133.4" text-anchor="middle">0</text>
<text class="t" x="34.7" y="1111.8" text-anchor="end">6</text>
<text class="t" x="34.7" y="1065.5" text-anchor="end">7</text>
<text class="t" x="34.7" y="1019.2" text-anchor="end">8</text>
<text class="t" x="34.7" y="972.9" text-anchor="end">9</text>
<text class="t" x="34.7" y="926.6" text-anchor="end">10</text>
<text class="h" font-size="14.2" x="340.7" y="906.4" text-anchor="middle">temperature Blombos</text>
<text class="a" x="340.8" y="1149.7" text-anchor="middle">time [ka]</text>
<text class="a" font-size="14.2" transform="translate(14.5 1014.8) rotate(-90)" text-anchor="middle">temperature (Celsius)</text>
<text class="L" x="71" y="1091.8">d)</text>
</g>
<g id="ph">
<path d="M842.3 922.8V1128.4M902.8 922.8V1128.4M963.4 922.8V1128.4M1023.9 922.8V1128.4M1084.5 922.8V1128.4M1145.1 922.8V1128.4M1205.6 922.8V1128.4M1266.2 922.8V1128.4M1326.7 922.8V1128.4M781.7 1091.7H1387.3M781.7 1051.8H1387.3M781.7 1011.9H1387.3M781.7 972.0H1387.3M781.7 932.1H1387.3" stroke="#e3e3e3" stroke-width="1" fill="none"/>
<clipPath id="ch"><rect x="781.7" y="922.8" width="605.6" height="205.6"/></clipPath>
<polyline clip-path="url(#ch)" points="781.6,971.4 784.4,984.1 787.2,994.3 789.8,978.0 791.6,978.0 794.6,997.3 797.3,1003.9 800.0,982.3 801.9,981.0 804.9,975.0 809.1,1003.9 811.2,998.5 813.9,983.5 816.0,987.7 818.7,984.1 823.3,1001.5 827.4,979.2 830.1,994.9 831.9,996.7 834.1,981.6 836.5,996.1 840.6,978.0 844.5,1003.9 847.6,1000.3 850.0,991.3 853.6,976.8 856.6,988.9 858.6,1009.3 862.0,985.3 864.6,991.3 866.6,975.6 869.4,979.8 872.2,1007.5 874.0,1006.3 878.2,984.7 882.4,998.5 884.8,1007.5 886.6,1014.7 889.1,1011.7 892.1,989.5 895.1,993.1 897.5,993.1 901.1,1002.7 904.1,981.0 907.1,994.9 910.1,1009.9 914.9,994.9 918.5,990.1 923.1,1015.3 926.3,1005.7 929.9,991.9 933.6,1003.3 935.4,1003.9 937.8,992.5 941.4,975.6 945.6,1020.7 949.2,987.7 951.0,992.5 954.0,976.2 959.2,1011.7 961.8,1010.5 965.2,993.7 968.4,997.3 971.4,1006.3 973.2,1020.1 977.5,987.7 979.6,1010.5 983.5,1010.5 986.5,1002.1 988.9,998.5 990.4,997.3 993.4,1009.3 996.8,1019.5 998.8,1015.3 1000.6,993.1 1004.3,991.0 1006.7,996.1 1009.1,1028.6 1010.5,1026.8 1013.3,1002.1 1016.5,993.1 1018.7,999.7 1020.5,1018.9 1022.9,1022.5 1025.7,1030.4 1028.3,1016.5 1030.1,1006.3 1031.9,1011.7 1034.3,1003.3 1036.7,995.5 1038.5,1002.1 1040.9,1003.3 1042.7,1011.7 1045.8,1041.8 1047.3,1047.2 1049.4,1038.2 1052.4,1002.7 1054.2,1015.3 1056.0,1008.7 1057.8,1010.5 1060.2,1031.0 1063.2,1005.7 1064.4,993.7 1066.8,1017.7 1069.2,1021.3 1071.0,1016.5 1073.4,1031.6 1076.4,1025.5 1078.8,1012.3 1082.4,1028.0 1086.6,1011.7 1088.7,1028.6 1092.3,1006.3 1095.4,1050.2 1098.1,1008.1 1099.6,995.5 1101.7,1009.3 1103.1,1008.1 1105.3,1024.9 1109.5,1063.4 1111.9,1050.2 1114.9,1043.0 1117.3,1043.0 1120.9,1037.0 1123.9,1072.5 1125.7,1032.2 1127.8,998.5 1130.3,1008.1 1133.0,1008.7 1135.4,1021.3 1138.4,1025.5 1140.2,1034.6 1142.6,1065.2 1144.7,1065.8 1147.1,1068.8 1148.8,1020.1 1152.2,1001.5 1154.6,1005.1 1157.6,1027.4 1160.6,1062.2 1163.6,1073.7 1165.2,1040.0 1166.9,1040.6 1170.0,1077.9 1171.2,1034.6 1173.2,1022.5 1175.0,1031.0 1177.5,995.5 1180.1,1020.1 1181.7,1045.4 1183.2,1037.0 1185.6,1078.5 1188.9,1071.9 1189.2,1068.2 1192.2,1065.8 1194.0,1070.7 1195.8,1077.9 1197.6,1071.9 1198.8,1032.2 1200.0,1008.1 1201.9,1000.9 1203.7,1009.9 1205.7,1009.3 1207.9,1014.1 1210.0,1045.4 1211.5,1020.1 1212.9,1002.7 1214.8,1005.7 1216.9,1020.1 1218.7,1019.5 1220.5,1038.2 1222.3,1056.2 1225.3,1064.6 1227.1,1038.2 1228.9,1020.1 1231.9,1018.9 1234.1,1014.7 1236.1,1024.9 1237.9,1037.0 1240.3,1023.7 1243.3,1032.2 1244.9,1058.6 1247.6,1059.2 1249.4,1065.8 1251.8,1057.4 1254.2,1065.8 1255.7,1065.8 1257.2,1044.2 1259.0,1000.9 1261.4,997.3 1263.6,988.9 1265.0,996.1 1266.2,992.5 1268.0,999.7 1270.4,1010.5 1272.8,1027.4 1274.0,1045.4 1275.8,1047.8 1278.2,1068.8 1281.0,1044.2 1283.0,1071.9 1284.6,1046.6 1285.8,996.1 1287.2,981.6 1290.3,1000.9 1292.1,999.7 1293.9,1015.3 1295.7,1018.9 1297.8,1041.2 1299.9,1023.1 1302.3,1044.2 1303.5,1061.0 1305.9,1065.8 1307.7,1041.2 1310.7,1065.8 1312.3,1050.2 1314.3,995.5 1316.7,1020.1 1319.1,1046.6 1322.7,1006.9 1324.9,1031.0 1326.9,1002.7 1329.6,1032.2 1331.1,1071.9 1333.6,1055.0 1335.1,1053.2 1337.2,1068.2 1339.6,1077.9 1342.0,1062.8 1345.6,1077.3 1347.4,1044.2 1348.8,996.1 1350.4,983.5 1353.4,1015.3 1355.8,1005.7 1357.6,1012.9 1359.4,1033.4 1361.2,1032.2 1362.4,1009.3 1364.8,1027.4 1366.6,1068.8 1368.4,1068.2 1370.0,1041.8 1371.4,1038.8 1373.2,1053.8 1374.4,1044.2 1376.3,1063.4 1378.7,1076.7 1380.5,1091.1 1382.3,1085.1 1383.5,1044.2 1385.3,1008.1 1387.3,985.9" fill="none" stroke="#0f0fe8" stroke-width="2.9" stroke-linejoin="round" stroke-linecap="round"/>
<path d="M781.7 1128.4v-6.7M781.7 922.8v6.7M842.3 1128.4v-6.7M842.3 922.8v6.7M902.8 1128.4v-6.7M902.8 922.8v6.7M963.4 1128.4v-6.7M963.4 922.8v6.7M1023.9 1128.4v-6.7M1023.9 922.8v6.7M1084.5 1128.4v-6.7M1084.5 922.8v6.7M1145.1 1128.4v-6.7M1145.1 922.8v6.7M1205.6 1128.4v-6.7M1205.6 922.8v6.7M1266.2 1128.4v-6.7M1266.2 922.8v6.7M1326.7 1128.4v-6.7M1326.7 922.8v6.7M1387.3 1128.4v-6.7M1387.3 922.8v6.7M781.7 1091.7h6.7M1387.3 1091.7h-6.7M781.7 1051.8h6.7M1387.3 1051.8h-6.7M781.7 1011.9h6.7M1387.3 1011.9h-6.7M781.7 972.0h6.7M1387.3 972.0h-6.7M781.7 932.1h6.7M1387.3 932.1h-6.7" stroke="#303030" stroke-width="1" fill="none"/>
<rect x="781.7" y="922.8" width="605.6" height="205.6" fill="none" stroke="#303030" stroke-width="1.15"/>
<text class="t" x="781.7" y="1144.1" text-anchor="middle">2000</text>
<text class="t" x="842.3" y="1144.1" text-anchor="middle">1800</text>
<text class="t" x="902.8" y="1144.1" text-anchor="middle">1600</text>
<text class="t" x="963.4" y="1144.1" text-anchor="middle">1400</text>
<text class="t" x="1023.9" y="1144.1" text-anchor="middle">1200</text>
<text class="t" x="1084.5" y="1144.1" text-anchor="middle">1000</text>
<text class="t" x="1145.1" y="1144.1" text-anchor="middle">800</text>
<text class="t" x="1205.6" y="1144.1" text-anchor="middle">600</text>
<text class="t" x="1266.2" y="1144.1" text-anchor="middle">400</text>
<text class="t" x="1326.7" y="1144.1" text-anchor="middle">200</text>
<text class="t" x="1387.3" y="1144.1" text-anchor="middle">0</text>
<text class="t" x="778.1" y="1096.2" text-anchor="end">9</text>
<text class="t" x="778.1" y="1056.3" text-anchor="end">10</text>
<text class="t" x="778.1" y="1016.4" text-anchor="end">11</text>
<text class="t" x="778.1" y="976.5" text-anchor="end">12</text>
<text class="t" x="778.1" y="936.6" text-anchor="end">13</text>
<text class="h" font-size="14.2" x="1084.3" y="917.5" text-anchor="middle">temperature Shkul cave</text>
<text class="a" x="1084.5" y="1160.3" text-anchor="middle">time [ka]</text>
<text class="a" font-size="14.2" transform="translate(758.2 1025.1) rotate(-90)" text-anchor="middle">temperature (Celsius)</text>
<text class="L" x="805.1" y="1090.2">h)</text>
</g>
<g id="pl">
<path d="M1563.3 922.8V1128.4M1624.0 922.8V1128.4M1684.6 922.8V1128.4M1745.2 922.8V1128.4M1805.8 922.8V1128.4M1866.5 922.8V1128.4M1927.1 922.8V1128.4M1987.7 922.8V1128.4M2048.4 922.8V1128.4M1502.7 1116.7H2109M1502.7 1087.6H2109M1502.7 1058.5H2109M1502.7 1029.4H2109M1502.7 1000.3H2109M1502.7 971.2H2109M1502.7 942.1H2109" stroke="#e3e3e3" stroke-width="1" fill="none"/>
<clipPath id="cl"><rect x="1502.7" y="922.8" width="606.3" height="205.6"/></clipPath>
<polyline clip-path="url(#cl)" points="1502.7,932.6 1504.5,958.5 1506.8,971.9 1508.6,959.4 1509.8,947.8 1511.6,946.0 1513.9,936.2 1517.3,1020.2 1521.8,928.5 1524.7,947.8 1527.3,936.2 1531.8,1005.9 1535.7,921.9 1539.3,970.1 1542.5,938.9 1545.2,1008.6 1548.3,921.9 1550.0,921.9 1552.4,1012.1 1556.3,928.5 1558.6,977.3 1562.6,933.2 1567.0,1011.2 1571.5,940.7 1573.6,959.4 1577.7,929.6 1580.4,1036.8 1584.0,933.9 1586.3,978.2 1587.6,927.3 1589.7,962.1 1591.7,938.9 1593.3,1011.2 1597.4,953.2 1599.7,950.5 1602.8,983.5 1605.1,992.5 1606.3,988.0 1609.0,1022.9 1613.0,954.1 1615.3,977.3 1617.6,956.7 1621.2,1007.7 1624.2,934.4 1627.3,967.5 1628.3,971.9 1629.6,965.7 1632.6,1028.2 1636.7,946.9 1639.8,978.2 1641.7,967.1 1645.1,1024.6 1651.6,948.7 1654.8,1021.1 1658.7,934.9 1660.9,972.8 1664.4,921.0 1667.6,1060.4 1671.2,921.0 1673.4,950.5 1676.0,953.2 1677.5,940.3 1681.6,1035.4 1686.4,948.7 1689.8,1008.6 1692.7,957.6 1695.2,1042.9 1699.6,927.8 1702.5,1038.6 1705.9,961.7 1708.2,1005.0 1710.0,1006.8 1711.6,969.2 1714.3,996.1 1716.4,1018.4 1718.2,1032.7 1720.0,1010.3 1721.8,951.0 1724.1,976.4 1725.0,978.2 1727.3,963.0 1730.7,1076.5 1734.3,958.5 1737.0,980.0 1739.3,965.7 1742.5,1059.5 1745.0,1028.2 1747.9,1038.9 1751.3,975.5 1753.6,1025.5 1757.5,957.6 1760.8,997.8 1762.6,988.9 1765.2,1069.3 1767.6,1086.3 1770.6,1049.7 1773.6,972.8 1776.5,1032.7 1779.5,991.6 1782.2,1047.0 1785.8,947.4 1789.4,1056.8 1792.4,991.6 1795.6,1060.4 1799.7,998.7 1804.6,1055.9 1807.8,981.8 1810.8,1048.8 1813.8,972.8 1817.1,1103.3 1821.0,947.4 1824.7,1028.2 1826.9,1022.9 1829.9,1120.2 1833.1,1081.8 1837.6,1050.6 1840.7,1087.2 1841.7,1064.0 1845.1,1131.9 1848.7,967.5 1852.3,1010.3 1854.6,987.1 1858.2,1056.8 1859.4,1048.2 1862.6,1120.2 1864.8,1110.4 1867.5,1131.9 1872.8,968.9 1876.9,1012.1 1880.5,1069.3 1881.9,1099.7 1883.2,1114.0 1885.0,1131.0 1887.3,1067.5 1890.3,1131.9 1894.8,993.4 1896.6,1006.8 1898.7,986.2 1900.5,997.8 1902.9,1049.7 1905.5,1102.4 1907.3,1091.7 1910.0,1117.6 1911.6,1119.4 1914.3,1124.7 1917.0,1131.9 1918.8,1081.8 1921.1,992.5 1922.7,965.7 1924.7,972.8 1926.8,1017.5 1928.2,1018.4 1929.1,989.8 1932.2,1084.5 1934.0,1010.3 1935.4,979.1 1937.9,1028.2 1939.7,1058.6 1941.5,1081.8 1944.3,1108.6 1946.1,1092.5 1947.4,1099.7 1950.0,1028.2 1951.8,1010.3 1953.6,1030.0 1955.0,1055.0 1956.8,1041.6 1959.0,1053.2 1960.8,1046.1 1962.6,1058.6 1964.0,1048.8 1965.2,1081.8 1967.0,1120.2 1969.7,1095.2 1971.1,1110.4 1972.4,1101.5 1975.1,1121.1 1976.9,1131.9 1979.5,1046.1 1981.3,999.6 1982.6,1006.8 1984.0,997.8 1987.0,946.9 1990.3,1003.2 1992.0,1004.1 1993.8,1028.2 1995.6,1058.6 1997.4,1072.9 1999.5,1108.6 2002.2,1085.4 2004.6,1131.9 2007.8,956.7 2009.6,942.4 2012.2,1006.8 2015.3,998.7 2017.1,1028.2 2019.4,1076.5 2022.4,1021.1 2025.1,1081.8 2027.3,1126.5 2028.7,1082.7 2032.3,1103.3 2034.0,1046.1 2036.7,986.2 2041.2,1086.3 2043.0,1010.3 2044.4,972.8 2046.6,1012.1 2048.0,1001.4 2051.0,1028.2 2052.8,1099.7 2054.6,1122.9 2056.9,1078.3 2059.1,1092.5 2060.9,1122.9 2063.0,1122.0 2065.3,1131.9 2068.9,1010.3 2071.9,941.5 2076.0,1047.0 2078.7,996.9 2082.3,1055.9 2083.7,1017.5 2086.8,1046.1 2088.6,1131.9 2090.9,1076.5 2092.7,1068.4 2094.5,1069.3 2097.5,1108.6 2101.1,1131.9 2104.6,1046.1 2106.4,974.6 2107.9,962.1 2108.7,944.2" fill="none" stroke="#0f0fe8" stroke-width="2.9" stroke-linejoin="round" stroke-linecap="round"/>
<path d="M1502.7 1128.4v-6.7M1502.7 922.8v6.7M1563.3 1128.4v-6.7M1563.3 922.8v6.7M1624.0 1128.4v-6.7M1624.0 922.8v6.7M1684.6 1128.4v-6.7M1684.6 922.8v6.7M1745.2 1128.4v-6.7M1745.2 922.8v6.7M1805.8 1128.4v-6.7M1805.8 922.8v6.7M1866.5 1128.4v-6.7M1866.5 922.8v6.7M1927.1 1128.4v-6.7M1927.1 922.8v6.7M1987.7 1128.4v-6.7M1987.7 922.8v6.7M2048.4 1128.4v-6.7M2048.4 922.8v6.7M2109.0 1128.4v-6.7M2109.0 922.8v6.7M1502.7 1116.7h6.7M2109 1116.7h-6.7M1502.7 1087.6h6.7M2109 1087.6h-6.7M1502.7 1058.5h6.7M2109 1058.5h-6.7M1502.7 1029.4h6.7M2109 1029.4h-6.7M1502.7 1000.3h6.7M2109 1000.3h-6.7M1502.7 971.2h6.7M2109 971.2h-6.7M1502.7 942.1h6.7M2109 942.1h-6.7" stroke="#303030" stroke-width="1" fill="none"/>
<rect x="1502.7" y="922.8" width="606.3" height="205.6" fill="none" stroke="#303030" stroke-width="1.15"/>
<text class="t" x="1502.7" y="1144.1" text-anchor="middle">2000</text>
<text class="t" x="1563.3" y="1144.1" text-anchor="middle">1800</text>
<text class="t" x="1624.0" y="1144.1" text-anchor="middle">1600</text>
<text class="t" x="1684.6" y="1144.1" text-anchor="middle">1400</text>
<text class="t" x="1745.2" y="1144.1" text-anchor="middle">1200</text>
<text class="t" x="1805.8" y="1144.1" text-anchor="middle">1000</text>
<text class="t" x="1866.5" y="1144.1" text-anchor="middle">800</text>
<text class="t" x="1927.1" y="1144.1" text-anchor="middle">600</text>
<text class="t" x="1987.7" y="1144.1" text-anchor="middle">400</text>
<text class="t" x="2048.4" y="1144.1" text-anchor="middle">200</text>
<text class="t" x="2109.0" y="1144.1" text-anchor="middle">0</text>
<text class="t" x="1499.1" y="1121.2" text-anchor="end">-8</text>
<text class="t" x="1499.1" y="1092.1" text-anchor="end">-7</text>
<text class="t" x="1499.1" y="1063.0" text-anchor="end">-6</text>
<text class="t" x="1499.1" y="1033.9" text-anchor="end">-5</text>
<text class="t" x="1499.1" y="1004.8" text-anchor="end">-4</text>
<text class="t" x="1499.1" y="975.7" text-anchor="end">-3</text>
<text class="t" x="1499.1" y="946.6" text-anchor="end">-2</text>
<text class="h" font-size="14.2" x="1805.7" y="916.8" text-anchor="middle">temperature Denisova cave</text>
<text class="a" x="1805.8" y="1160.3" text-anchor="middle">time [ka]</text>
<text class="a" font-size="14.2" transform="translate(1479.0 1025.1) rotate(-90)" text-anchor="middle">temperature (Celsius)</text>
<text class="L" x="1543.7" y="1083.8">l)</text>
</g>
</svg></body></html>
